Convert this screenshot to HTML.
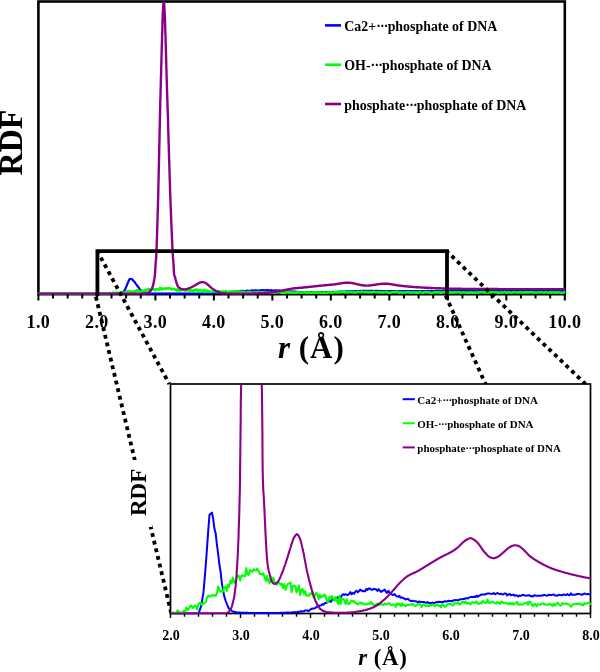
<!DOCTYPE html><html><head><meta charset="utf-8"><title>RDF</title><style>html,body{margin:0;padding:0;background:#fff}svg{display:block}</style></head><body><svg width="600" height="672" viewBox="0 0 600 672"><defs><clipPath id="ct"><rect x="37.2" y="1.8" width="528.2" height="293.0"/></clipPath><clipPath id="cb"><rect x="169.7" y="384.7" width="421.6" height="229.8"/></clipPath></defs><rect width="600" height="672" fill="#fff"/><rect x="38.4" y="1.5" width="526.4" height="292.7" fill="none" stroke="#000" stroke-width="2.6"/><g clip-path="url(#ct)" fill="none" stroke-linejoin="round" stroke-linecap="round"><path d="M38.4 293.8L39.4 293.8L40.4 293.8L41.5 293.8L42.5 293.8L43.5 293.8L44.5 293.8L45.6 293.8L46.6 293.8L47.6 293.8L48.6 293.8L49.7 293.8L50.7 293.8L51.7 293.8L52.7 293.8L53.8 293.8L54.8 293.8L55.8 293.8L56.8 293.8L57.8 293.8L58.9 293.8L59.9 293.8L60.9 293.8L61.9 293.8L63.0 293.8L64.0 293.8L65.0 293.8L66.0 293.8L67.1 293.8L68.1 293.8L69.1 293.8L70.1 293.8L71.2 293.8L72.2 293.8L73.2 293.8L74.2 293.8L75.2 293.8L76.3 293.8L77.3 293.8L78.3 293.8L79.3 293.8L80.4 293.8L81.4 293.8L82.4 293.8L83.4 293.8L84.5 293.8L85.5 293.8L86.5 293.8L87.5 293.8L88.6 293.8L89.6 293.8L90.6 293.8L91.6 293.8L92.6 293.8L93.7 293.8L94.7 293.8L95.7 293.8L96.7 293.8L97.8 293.8L98.8 293.8L99.8 293.8L100.8 293.8L101.9 293.8L102.9 293.8L103.9 293.8L104.9 293.8L106.0 293.8L107.0 293.8L108.0 293.8L109.0 293.8L110.0 293.8L111.1 293.8L112.1 293.8L113.1 293.8L114.1 293.8L115.2 293.8L116.2 293.8L117.2 293.8L118.2 293.8L119.3 293.8L120.3 293.7L121.3 293.3L122.3 292.8L123.4 291.8L124.4 290.7L125.4 288.7L126.4 286.4L127.4 283.9L128.5 281.4L129.5 279.2L130.5 279.0L131.5 278.9L132.6 279.8L133.6 281.2L134.6 281.9L135.6 283.6L136.7 284.9L137.7 286.5L138.7 287.6L139.7 289.3L140.8 290.3L141.8 291.2L142.8 291.9L143.8 292.3L144.8 292.8L145.9 293.1L146.9 293.2L147.9 293.4L148.9 293.5L150.0 293.5L151.0 293.6L152.0 293.7L153.0 293.6L154.1 293.7L155.1 293.7L156.1 293.7L157.1 293.7L158.2 293.7L159.2 293.7L160.2 293.7L161.2 293.7L162.3 293.7L163.3 293.7L164.3 293.7L165.3 293.7L166.3 293.7L167.4 293.7L168.4 293.7L169.4 293.7L170.4 293.7L171.5 293.7L172.5 293.7L173.5 293.7L174.5 293.7L175.6 293.7L176.6 293.7L177.6 293.7L178.6 293.7L179.7 293.7L180.7 293.7L181.7 293.7L182.7 293.7L183.7 293.7L184.8 293.7L185.8 293.7L186.8 293.7L187.8 293.7L188.9 293.7L189.9 293.7L190.9 293.7L191.9 293.7L193.0 293.7L194.0 293.7L195.0 293.7L196.0 293.7L197.1 293.7L198.1 293.6L199.1 293.6L200.1 293.6L201.1 293.6L202.2 293.6L203.2 293.5L204.2 293.6L205.2 293.5L206.3 293.5L207.3 293.5L208.3 293.5L209.3 293.3L210.4 293.3L211.4 293.4L212.4 293.4L213.4 293.2L214.5 293.1L215.5 293.1L216.5 293.1L217.5 293.0L218.5 292.9L219.6 292.7L220.6 292.8L221.6 292.6L222.6 292.6L223.7 292.4L224.7 292.5L225.7 292.3L226.7 292.3L227.8 292.2L228.8 292.0L229.8 291.9L230.8 292.1L231.9 291.8L232.9 291.7L233.9 291.7L234.9 291.5L235.9 291.5L237.0 291.4L238.0 291.5L239.0 291.4L240.0 291.1L241.1 290.9L242.1 291.0L243.1 290.9L244.1 291.0L245.2 291.1L246.2 290.9L247.2 290.6L248.2 291.0L249.3 290.8L250.3 290.9L251.3 290.6L252.3 290.4L253.3 290.6L254.4 290.5L255.4 290.3L256.4 290.4L257.4 290.5L258.5 290.5L259.5 290.5L260.5 290.2L261.5 290.3L262.6 290.1L263.6 290.1L264.6 290.3L265.6 290.3L266.7 290.1L267.7 290.2L268.7 290.2L269.7 290.5L270.7 290.2L271.8 290.4L272.8 290.6L273.8 290.5L274.8 290.4L275.9 290.3L276.9 290.6L277.9 290.7L278.9 290.4L280.0 290.7L281.0 290.8L282.0 291.0L283.0 291.1L284.1 290.9L285.1 291.2L286.1 291.3L287.1 291.3L288.1 291.2L289.2 291.5L290.2 291.4L291.2 291.5L292.2 291.6L293.3 291.7L294.3 291.7L295.3 291.6L296.3 291.8L297.4 291.9L298.4 292.0L299.4 291.9L300.4 292.0L301.5 292.0L302.5 292.0L303.5 292.2L304.5 292.0L305.5 292.1L306.6 292.1L307.6 292.1L308.6 292.1L309.6 292.2L310.7 292.2L311.7 292.1L312.7 292.2L313.7 292.3L314.8 292.3L315.8 292.2L316.8 292.3L317.8 292.2L318.9 292.1L319.9 292.1L320.9 292.1L321.9 292.1L322.9 292.1L324.0 292.1L325.0 292.1L326.0 292.0L327.0 292.0L328.1 292.0L329.1 291.9L330.1 291.9L331.1 292.0L332.2 292.0L333.2 291.8L334.2 291.8L335.2 291.8L336.3 291.8L337.3 291.8L338.3 291.8L339.3 291.7L340.3 291.7L341.4 291.7L342.4 291.7L343.4 291.6L344.4 291.5L345.5 291.6L346.5 291.4L347.5 291.4L348.5 291.3L349.6 291.4L350.6 291.3L351.6 291.4L352.6 291.2L353.7 291.3L354.7 291.2L355.7 291.1L356.7 291.0L357.7 291.0L358.8 291.0L359.8 291.0L360.8 290.9L361.8 290.8L362.9 290.8L363.9 290.9L364.9 290.9L365.9 290.9L367.0 290.8L368.0 291.0L369.0 290.9L370.0 290.8L371.1 290.9L372.1 290.9L373.1 290.9L374.1 291.0L375.1 290.9L376.2 290.8L377.2 290.8L378.2 291.1L379.2 291.0L380.3 290.9L381.3 291.1L382.3 291.1L383.3 291.0L384.4 291.2L385.4 291.1L386.4 291.2L387.4 291.3L388.5 291.1L389.5 291.2L390.5 291.1L391.5 291.0L392.6 291.1L393.6 291.2L394.6 291.1L395.6 291.1L396.6 291.1L397.7 291.3L398.7 291.2L399.7 291.3L400.7 291.1L401.8 291.1L402.8 291.2L403.8 291.2L404.8 291.2L405.9 291.2L406.9 291.1L407.9 291.1L408.9 291.0L410.0 291.1L411.0 291.2L412.0 291.1L413.0 291.0L414.0 291.1L415.1 291.1L416.1 291.0L417.1 291.0L418.1 291.2L419.2 291.1L420.2 291.2L421.2 291.0L422.2 291.1L423.3 291.1L424.3 291.1L425.3 291.0L426.3 291.0L427.4 291.1L428.4 290.9L429.4 291.1L430.4 291.1L431.4 290.8L432.5 291.0L433.5 291.0L434.5 291.0L435.5 291.0L436.6 290.9L437.6 290.9L438.6 290.9L439.6 291.0L440.7 291.1L441.7 290.9L442.7 290.8L443.7 290.9L444.8 291.0L445.8 290.9L446.8 291.0L447.8 290.9L448.8 291.0L449.9 291.0L450.9 290.9L451.9 291.0L452.9 290.9L454.0 290.8L455.0 290.9L456.0 291.0L457.0 291.0L458.1 291.0L459.1 291.0L460.1 291.0L461.1 291.0L462.2 291.0L463.2 291.0L464.2 291.0L465.2 291.0L466.2 291.0L467.3 290.9L468.3 290.9L469.3 291.1L470.3 291.1L471.4 291.1L472.4 291.0L473.4 290.9L474.4 291.0L475.5 291.0L476.5 291.0L477.5 291.0L478.5 291.0L479.6 291.0L480.6 291.0L481.6 291.1L482.6 291.0L483.6 290.9L484.7 291.1L485.7 291.1L486.7 291.0L487.7 291.0L488.8 291.1L489.8 291.0L490.8 291.0L491.8 291.0L492.9 291.1L493.9 291.0L494.9 291.0L495.9 291.0L497.0 291.0L498.0 291.0L499.0 291.1L500.0 291.0L501.0 291.1L502.1 291.0L503.1 291.0L504.1 291.1L505.1 291.1L506.2 291.1L507.2 291.1L508.2 291.1L509.2 291.1L510.3 291.1L511.3 291.1L512.3 291.0L513.3 291.0L514.4 291.0L515.4 291.1L516.4 291.1L517.4 291.1L518.4 291.1L519.5 291.0L520.5 291.0L521.5 291.0L522.5 291.0L523.6 291.2L524.6 291.1L525.6 291.1L526.6 291.0L527.7 291.0L528.7 291.1L529.7 291.1L530.7 291.1L531.8 291.1L532.8 291.1L533.8 291.1L534.8 291.0L535.8 291.1L536.9 291.0L537.9 291.1L538.9 291.1L539.9 291.0L541.0 291.1L542.0 291.1L543.0 291.1L544.0 291.1L545.1 291.1L546.1 291.1L547.1 291.1L548.1 291.2L549.2 291.1L550.2 291.1L551.2 291.0L552.2 291.2L553.2 291.0L554.3 291.0L555.3 291.1L556.3 291.2L557.3 291.1L558.4 291.1L559.4 291.1L560.4 291.0L561.4 291.1L562.5 291.1L563.5 291.1L564.5 291.0" stroke="#0000ff" stroke-width="2.2"/><path d="M38.4 293.8L39.4 293.8L40.4 293.8L41.5 293.8L42.5 293.8L43.5 293.8L44.5 293.8L45.6 293.8L46.6 293.8L47.6 293.8L48.6 293.8L49.7 293.8L50.7 293.8L51.7 293.8L52.7 293.8L53.8 293.8L54.8 293.8L55.8 293.8L56.8 293.8L57.8 293.8L58.9 293.8L59.9 293.8L60.9 293.8L61.9 293.8L63.0 293.8L64.0 293.8L65.0 293.8L66.0 293.8L67.1 293.8L68.1 293.8L69.1 293.8L70.1 293.8L71.2 293.8L72.2 293.8L73.2 293.8L74.2 293.8L75.2 293.8L76.3 293.8L77.3 293.8L78.3 293.8L79.3 293.8L80.4 293.8L81.4 293.8L82.4 293.8L83.4 293.8L84.5 293.8L85.5 293.8L86.5 293.8L87.5 293.8L88.6 293.8L89.6 293.8L90.6 293.8L91.6 293.8L92.6 293.8L93.7 293.8L94.7 293.8L95.7 293.8L96.7 293.8L97.8 293.8L98.8 293.6L99.8 293.8L100.8 293.8L101.9 293.7L102.9 293.2L103.9 293.7L104.9 293.8L106.0 293.8L107.0 293.8L108.0 293.5L109.0 293.8L110.0 292.9L111.1 293.4L112.1 293.2L113.1 292.7L114.1 292.6L115.2 293.2L116.2 292.9L117.2 292.7L118.2 293.0L119.3 293.7L120.3 292.5L121.3 292.3L122.3 292.5L123.4 293.0L124.4 292.6L125.4 292.7L126.4 292.5L127.4 291.5L128.5 291.3L129.5 291.6L130.5 291.6L131.5 291.4L132.6 291.7L133.6 291.6L134.6 291.9L135.6 291.4L136.7 290.0L137.7 290.7L138.7 291.3L139.7 291.3L140.8 291.4L141.8 290.6L142.8 290.5L143.8 291.5L144.8 290.3L145.9 290.8L146.9 289.5L147.9 290.1L148.9 289.0L150.0 290.3L151.0 290.1L152.0 289.5L153.0 288.9L154.1 289.2L155.1 290.3L156.1 289.2L157.1 289.3L158.2 289.5L159.2 289.6L160.2 287.8L161.2 289.3L162.3 289.5L163.3 288.4L164.3 288.7L165.3 288.9L166.3 288.2L167.4 288.5L168.4 288.5L169.4 288.1L170.4 288.6L171.5 289.3L172.5 289.1L173.5 289.3L174.5 288.9L175.6 289.9L176.6 290.5L177.6 289.2L178.6 290.3L179.7 290.8L180.7 289.3L181.7 290.1L182.7 289.3L183.7 290.1L184.8 290.5L185.8 290.7L186.8 290.2L187.8 290.1L188.9 290.6L189.9 290.3L190.9 291.2L191.9 290.2L193.0 291.5L194.0 290.5L195.0 290.0L196.0 289.8L197.1 289.5L198.1 291.6L199.1 290.2L200.1 290.0L201.1 290.2L202.2 291.5L203.2 290.7L204.2 289.9L205.2 292.0L206.3 290.8L207.3 290.5L208.3 291.6L209.3 290.9L210.4 291.9L211.4 291.8L212.4 291.8L213.4 291.3L214.5 291.5L215.5 290.9L216.5 292.0L217.5 291.6L218.5 291.0L219.6 291.3L220.6 292.3L221.6 291.3L222.6 291.9L223.7 291.5L224.7 291.6L225.7 291.1L226.7 291.7L227.8 292.8L228.8 292.6L229.8 291.5L230.8 292.0L231.9 291.4L232.9 291.8L233.9 292.4L234.9 291.5L235.9 292.4L237.0 293.0L238.0 291.2L239.0 293.0L240.0 291.9L241.1 291.8L242.1 292.1L243.1 292.9L244.1 291.8L245.2 292.8L246.2 292.8L247.2 292.4L248.2 292.0L249.3 292.2L250.3 292.1L251.3 292.6L252.3 292.5L253.3 292.8L254.4 292.6L255.4 292.3L256.4 292.6L257.4 292.3L258.5 292.7L259.5 292.7L260.5 292.5L261.5 292.6L262.6 292.3L263.6 292.5L264.6 292.0L265.6 292.6L266.7 292.6L267.7 292.9L268.7 292.5L269.7 292.4L270.7 292.8L271.8 292.6L272.8 292.4L273.8 292.6L274.8 292.7L275.9 292.3L276.9 292.5L277.9 292.4L278.9 292.2L280.0 292.3L281.0 292.6L282.0 292.7L283.0 292.5L284.1 292.6L285.1 293.0L286.1 292.2L287.1 292.5L288.1 292.3L289.2 292.8L290.2 292.2L291.2 292.7L292.2 292.6L293.3 292.9L294.3 292.6L295.3 292.6L296.3 292.6L297.4 292.4L298.4 292.5L299.4 292.3L300.4 292.7L301.5 292.8L302.5 292.6L303.5 292.4L304.5 292.3L305.5 292.4L306.6 293.0L307.6 292.5L308.6 292.3L309.6 292.6L310.7 292.8L311.7 292.6L312.7 292.8L313.7 292.5L314.8 292.6L315.8 292.3L316.8 292.5L317.8 292.8L318.9 292.5L319.9 292.4L320.9 292.7L321.9 292.7L322.9 293.1L324.0 292.3L325.0 292.7L326.0 293.0L327.0 292.9L328.1 292.5L329.1 292.3L330.1 292.5L331.1 292.3L332.2 292.7L333.2 292.7L334.2 292.2L335.2 292.3L336.3 292.4L337.3 292.1L338.3 292.5L339.3 292.4L340.3 292.1L341.4 291.9L342.4 292.3L343.4 291.9L344.4 292.4L345.5 292.2L346.5 292.3L347.5 292.6L348.5 292.2L349.6 292.0L350.6 292.2L351.6 292.2L352.6 291.9L353.7 292.4L354.7 292.5L355.7 292.3L356.7 292.4L357.7 291.8L358.8 292.1L359.8 292.3L360.8 292.3L361.8 291.5L362.9 292.3L363.9 292.3L364.9 292.1L365.9 292.0L367.0 292.1L368.0 292.4L369.0 292.4L370.0 292.0L371.1 292.2L372.1 292.5L373.1 291.9L374.1 292.0L375.1 292.3L376.2 292.3L377.2 292.2L378.2 292.4L379.2 292.5L380.3 292.2L381.3 292.6L382.3 292.2L383.3 292.6L384.4 292.3L385.4 292.3L386.4 291.9L387.4 292.5L388.5 292.6L389.5 292.5L390.5 292.6L391.5 292.5L392.6 292.3L393.6 292.2L394.6 292.0L395.6 292.5L396.6 291.8L397.7 292.0L398.7 292.5L399.7 292.9L400.7 292.4L401.8 292.4L402.8 292.9L403.8 292.4L404.8 292.5L405.9 292.6L406.9 292.3L407.9 292.2L408.9 292.5L410.0 292.4L411.0 292.6L412.0 292.6L413.0 292.4L414.0 292.3L415.1 292.5L416.1 292.9L417.1 292.3L418.1 292.7L419.2 292.4L420.2 292.0L421.2 292.4L422.2 292.7L423.3 292.7L424.3 292.2L425.3 292.4L426.3 292.3L427.4 292.2L428.4 292.4L429.4 292.5L430.4 292.6L431.4 293.0L432.5 292.7L433.5 292.4L434.5 292.4L435.5 292.3L436.6 292.4L437.6 292.4L438.6 292.2L439.6 292.6L440.7 292.4L441.7 292.7L442.7 292.2L443.7 292.4L444.8 292.3L445.8 292.1L446.8 292.2L447.8 292.4L448.8 292.2L449.9 292.7L450.9 292.3L451.9 292.4L452.9 292.7L454.0 292.1L455.0 292.5L456.0 292.3L457.0 292.5L458.1 292.2L459.1 292.1L460.1 292.6L461.1 292.7L462.2 292.4L463.2 292.2L464.2 292.5L465.2 292.5L466.2 292.3L467.3 293.0L468.3 292.5L469.3 292.7L470.3 292.3L471.4 292.6L472.4 292.6L473.4 292.5L474.4 292.7L475.5 292.4L476.5 292.5L477.5 292.5L478.5 292.6L479.6 292.2L480.6 292.4L481.6 292.3L482.6 292.3L483.6 292.6L484.7 292.3L485.7 292.4L486.7 292.4L487.7 292.5L488.8 292.5L489.8 292.3L490.8 292.0L491.8 292.6L492.9 292.3L493.9 292.5L494.9 292.3L495.9 292.3L497.0 292.2L498.0 293.0L499.0 292.5L500.0 292.6L501.0 292.4L502.1 292.6L503.1 292.5L504.1 292.3L505.1 292.1L506.2 293.0L507.2 292.5L508.2 292.4L509.2 292.4L510.3 292.5L511.3 292.7L512.3 292.6L513.3 292.3L514.4 292.2L515.4 292.4L516.4 292.6L517.4 292.4L518.4 292.5L519.5 292.3L520.5 292.4L521.5 292.5L522.5 292.4L523.6 292.7L524.6 292.3L525.6 292.2L526.6 292.7L527.7 292.3L528.7 292.6L529.7 292.2L530.7 292.3L531.8 292.5L532.8 292.2L533.8 292.5L534.8 292.5L535.8 292.5L536.9 292.5L537.9 292.5L538.9 292.4L539.9 292.5L541.0 292.3L542.0 292.2L543.0 292.5L544.0 292.7L545.1 292.3L546.1 292.2L547.1 292.5L548.1 292.7L549.2 292.4L550.2 292.1L551.2 292.8L552.2 292.3L553.2 292.5L554.3 292.6L555.3 292.3L556.3 292.7L557.3 292.4L558.4 292.2L559.4 292.4L560.4 292.6L561.4 292.8L562.5 292.7L563.5 292.8L564.5 292.1" stroke="#00ff00" stroke-width="2.6"/><path d="M38.4 293.8L38.5 293.8L38.7 293.8L38.8 293.8L39.0 293.8L39.1 293.8L39.3 293.8L39.4 293.8L39.6 293.8L39.7 293.8L39.9 293.8L40.0 293.8L40.2 293.8L40.3 293.8L40.4 293.8L40.6 293.8L40.7 293.8L40.9 293.8L41.0 293.8L41.2 293.8L41.3 293.8L41.5 293.8L41.6 293.8L41.8 293.8L41.9 293.8L42.1 293.8L42.2 293.8L42.3 293.8L42.5 293.8L42.6 293.8L42.8 293.8L42.9 293.8L43.1 293.8L43.2 293.8L43.4 293.8L43.5 293.8L43.7 293.8L43.8 293.8L44.0 293.8L44.1 293.8L44.2 293.8L44.4 293.8L44.5 293.8L44.7 293.8L44.8 293.8L45.0 293.8L45.1 293.8L45.3 293.8L45.4 293.8L45.6 293.8L45.7 293.8L45.9 293.8L46.0 293.8L46.1 293.8L46.3 293.8L46.4 293.8L46.6 293.8L46.7 293.8L46.9 293.8L47.0 293.8L47.2 293.8L47.3 293.8L47.5 293.8L47.6 293.8L47.8 293.8L47.9 293.8L48.1 293.8L48.2 293.8L48.3 293.8L48.5 293.8L48.6 293.8L48.8 293.8L48.9 293.8L49.1 293.8L49.2 293.8L49.4 293.8L49.5 293.8L49.7 293.8L49.8 293.8L50.0 293.8L50.1 293.8L50.2 293.8L50.4 293.8L50.5 293.8L50.7 293.8L50.8 293.8L51.0 293.8L51.1 293.8L51.3 293.8L51.4 293.8L51.6 293.8L51.7 293.8L51.9 293.8L52.0 293.8L52.1 293.8L52.3 293.8L52.4 293.8L52.6 293.8L52.7 293.8L52.9 293.8L53.0 293.8L53.2 293.8L53.3 293.8L53.5 293.8L53.6 293.8L53.8 293.8L53.9 293.8L54.0 293.8L54.2 293.8L54.3 293.8L54.5 293.8L54.6 293.8L54.8 293.8L54.9 293.8L55.1 293.8L55.2 293.8L55.4 293.8L55.5 293.8L55.7 293.8L55.8 293.8L55.9 293.8L56.1 293.8L56.2 293.8L56.4 293.8L56.5 293.8L56.7 293.8L56.8 293.8L57.0 293.8L57.1 293.8L57.3 293.8L57.4 293.8L57.6 293.8L57.7 293.8L57.8 293.8L58.0 293.8L58.1 293.8L58.3 293.8L58.4 293.8L58.6 293.8L58.7 293.8L58.9 293.8L59.0 293.8L59.2 293.8L59.3 293.8L59.5 293.8L59.6 293.8L59.7 293.8L59.9 293.8L60.0 293.8L60.2 293.8L60.3 293.8L60.5 293.8L60.6 293.8L60.8 293.8L60.9 293.8L61.1 293.8L61.2 293.8L61.4 293.8L61.5 293.8L61.6 293.8L61.8 293.8L61.9 293.8L62.1 293.8L62.2 293.8L62.4 293.8L62.5 293.8L62.7 293.8L62.8 293.8L63.0 293.8L63.1 293.8L63.3 293.8L63.4 293.8L63.6 293.8L63.7 293.8L63.8 293.8L64.0 293.8L64.1 293.8L64.3 293.8L64.4 293.8L64.6 293.8L64.7 293.8L64.9 293.8L65.0 293.8L65.2 293.8L65.3 293.8L65.5 293.8L65.6 293.8L65.7 293.8L65.9 293.8L66.0 293.8L66.2 293.8L66.3 293.8L66.5 293.8L66.6 293.8L66.8 293.8L66.9 293.8L67.1 293.8L67.2 293.8L67.4 293.8L67.5 293.8L67.6 293.8L67.8 293.8L67.9 293.8L68.1 293.8L68.2 293.8L68.4 293.8L68.5 293.8L68.7 293.8L68.8 293.8L69.0 293.8L69.1 293.8L69.3 293.8L69.4 293.8L69.5 293.8L69.7 293.8L69.8 293.8L70.0 293.8L70.1 293.8L70.3 293.8L70.4 293.8L70.6 293.8L70.7 293.8L70.9 293.8L71.0 293.8L71.2 293.8L71.3 293.8L71.4 293.8L71.6 293.8L71.7 293.8L71.9 293.8L72.0 293.8L72.2 293.8L72.3 293.8L72.5 293.8L72.6 293.8L72.8 293.8L72.9 293.8L73.1 293.8L73.2 293.8L73.3 293.8L73.5 293.8L73.6 293.8L73.8 293.8L73.9 293.8L74.1 293.8L74.2 293.8L74.4 293.8L74.5 293.8L74.7 293.8L74.8 293.8L75.0 293.8L75.1 293.8L75.2 293.8L75.4 293.8L75.5 293.8L75.7 293.8L75.8 293.8L76.0 293.8L76.1 293.8L76.3 293.8L76.4 293.8L76.6 293.8L76.7 293.8L76.9 293.8L77.0 293.8L77.1 293.8L77.3 293.8L77.4 293.8L77.6 293.8L77.7 293.8L77.9 293.8L78.0 293.8L78.2 293.8L78.3 293.8L78.5 293.8L78.6 293.8L78.8 293.8L78.9 293.8L79.0 293.8L79.2 293.8L79.3 293.8L79.5 293.8L79.6 293.8L79.8 293.8L79.9 293.8L80.1 293.8L80.2 293.8L80.4 293.8L80.5 293.8L80.7 293.8L80.8 293.8L81.0 293.8L81.1 293.8L81.2 293.8L81.4 293.8L81.5 293.8L81.7 293.8L81.8 293.8L82.0 293.8L82.1 293.8L82.3 293.8L82.4 293.8L82.6 293.8L82.7 293.8L82.9 293.8L83.0 293.8L83.1 293.8L83.3 293.8L83.4 293.8L83.6 293.8L83.7 293.8L83.9 293.8L84.0 293.8L84.2 293.8L84.3 293.8L84.5 293.8L84.6 293.8L84.8 293.8L84.9 293.8L85.0 293.8L85.2 293.8L85.3 293.8L85.5 293.8L85.6 293.8L85.8 293.8L85.9 293.8L86.1 293.8L86.2 293.8L86.4 293.8L86.5 293.8L86.7 293.8L86.8 293.8L86.9 293.8L87.1 293.8L87.2 293.8L87.4 293.8L87.5 293.8L87.7 293.8L87.8 293.8L88.0 293.8L88.1 293.8L88.3 293.8L88.4 293.8L88.6 293.8L88.7 293.8L88.8 293.8L89.0 293.8L89.1 293.8L89.3 293.8L89.4 293.8L89.6 293.8L89.7 293.8L89.9 293.8L90.0 293.8L90.2 293.8L90.3 293.8L90.5 293.8L90.6 293.8L90.7 293.8L90.9 293.8L91.0 293.8L91.2 293.8L91.3 293.8L91.5 293.8L91.6 293.8L91.8 293.8L91.9 293.8L92.1 293.8L92.2 293.8L92.4 293.8L92.5 293.8L92.6 293.8L92.8 293.8L92.9 293.8L93.1 293.8L93.2 293.8L93.4 293.8L93.5 293.8L93.7 293.8L93.8 293.8L94.0 293.8L94.1 293.8L94.3 293.8L94.4 293.8L94.5 293.8L94.7 293.8L94.8 293.8L95.0 293.8L95.1 293.8L95.3 293.8L95.4 293.8L95.6 293.8L95.7 293.8L95.9 293.8L96.0 293.8L96.2 293.8L96.3 293.8L96.5 293.8L96.6 293.8L96.7 293.8L96.9 293.8L97.0 293.8L97.2 293.8L97.3 293.8L97.5 293.8L97.6 293.8L97.8 293.8L97.9 293.8L98.1 293.8L98.2 293.8L98.4 293.8L98.5 293.8L98.6 293.8L98.8 293.8L98.9 293.8L99.1 293.8L99.2 293.8L99.4 293.8L99.5 293.8L99.7 293.8L99.8 293.8L100.0 293.8L100.1 293.8L100.3 293.8L100.4 293.8L100.5 293.8L100.7 293.8L100.8 293.8L101.0 293.8L101.1 293.8L101.3 293.8L101.4 293.8L101.6 293.8L101.7 293.8L101.9 293.8L102.0 293.8L102.2 293.8L102.3 293.8L102.4 293.8L102.6 293.8L102.7 293.8L102.9 293.8L103.0 293.8L103.2 293.8L103.3 293.8L103.5 293.8L103.6 293.8L103.8 293.8L103.9 293.8L104.1 293.8L104.2 293.8L104.3 293.8L104.5 293.8L104.6 293.8L104.8 293.8L104.9 293.8L105.1 293.8L105.2 293.8L105.4 293.8L105.5 293.8L105.7 293.8L105.8 293.8L106.0 293.8L106.1 293.8L106.2 293.8L106.4 293.8L106.5 293.8L106.7 293.8L106.8 293.8L107.0 293.8L107.1 293.8L107.3 293.8L107.4 293.8L107.6 293.8L107.7 293.8L107.9 293.8L108.0 293.8L108.1 293.8L108.3 293.8L108.4 293.8L108.6 293.8L108.7 293.8L108.9 293.8L109.0 293.8L109.2 293.8L109.3 293.8L109.5 293.8L109.6 293.8L109.8 293.8L109.9 293.8L110.0 293.8L110.2 293.8L110.3 293.8L110.5 293.8L110.6 293.8L110.8 293.8L110.9 293.8L111.1 293.8L111.2 293.8L111.4 293.8L111.5 293.8L111.7 293.8L111.8 293.8L111.9 293.8L112.1 293.8L112.2 293.8L112.4 293.8L112.5 293.8L112.7 293.8L112.8 293.8L113.0 293.8L113.1 293.8L113.3 293.8L113.4 293.8L113.6 293.8L113.7 293.8L113.9 293.8L114.0 293.8L114.1 293.8L114.3 293.8L114.4 293.8L114.6 293.8L114.7 293.8L114.9 293.8L115.0 293.8L115.2 293.8L115.3 293.8L115.5 293.8L115.6 293.8L115.8 293.8L115.9 293.8L116.0 293.8L116.2 293.8L116.3 293.8L116.5 293.8L116.6 293.8L116.8 293.8L116.9 293.8L117.1 293.8L117.2 293.8L117.4 293.8L117.5 293.8L117.7 293.8L117.8 293.8L117.9 293.8L118.1 293.8L118.2 293.8L118.4 293.8L118.5 293.8L118.7 293.8L118.8 293.8L119.0 293.8L119.1 293.8L119.3 293.8L119.4 293.8L119.6 293.8L119.7 293.8L119.8 293.8L120.0 293.8L120.1 293.8L120.3 293.8L120.4 293.8L120.6 293.8L120.7 293.8L120.9 293.8L121.0 293.8L121.2 293.8L121.3 293.8L121.5 293.8L121.6 293.8L121.7 293.8L121.9 293.8L122.0 293.8L122.2 293.8L122.3 293.8L122.5 293.8L122.6 293.8L122.8 293.8L122.9 293.8L123.1 293.8L123.2 293.8L123.4 293.8L123.5 293.8L123.6 293.8L123.8 293.8L123.9 293.8L124.1 293.8L124.2 293.8L124.4 293.8L124.5 293.8L124.7 293.8L124.8 293.8L125.0 293.8L125.1 293.8L125.3 293.8L125.4 293.8L125.5 293.8L125.7 293.8L125.8 293.8L126.0 293.8L126.1 293.8L126.3 293.8L126.4 293.8L126.6 293.8L126.7 293.8L126.9 293.8L127.0 293.8L127.2 293.8L127.3 293.8L127.4 293.8L127.6 293.8L127.7 293.8L127.9 293.8L128.0 293.8L128.2 293.8L128.3 293.8L128.5 293.8L128.6 293.8L128.8 293.8L128.9 293.8L129.1 293.8L129.2 293.8L129.4 293.8L129.5 293.8L129.6 293.8L129.8 293.8L129.9 293.8L130.1 293.8L130.2 293.8L130.4 293.8L130.5 293.8L130.7 293.8L130.8 293.8L131.0 293.8L131.1 293.8L131.3 293.8L131.4 293.8L131.5 293.8L131.7 293.8L131.8 293.8L132.0 293.8L132.1 293.8L132.3 293.8L132.4 293.8L132.6 293.8L132.7 293.8L132.9 293.8L133.0 293.8L133.2 293.8L133.3 293.8L133.4 293.8L133.6 293.8L133.7 293.8L133.9 293.8L134.0 293.8L134.2 293.8L134.3 293.8L134.5 293.8L134.6 293.8L134.8 293.8L134.9 293.8L135.1 293.8L135.2 293.8L135.3 293.8L135.5 293.8L135.6 293.8L135.8 293.8L135.9 293.8L136.1 293.8L136.2 293.8L136.4 293.8L136.5 293.8L136.7 293.8L136.8 293.8L137.0 293.8L137.1 293.8L137.2 293.8L137.4 293.8L137.5 293.8L137.7 293.8L137.8 293.8L138.0 293.8L138.1 293.8L138.3 293.8L138.4 293.8L138.6 293.8L138.7 293.8L138.9 293.8L139.0 293.8L139.1 293.8L139.3 293.8L139.4 293.8L139.6 293.8L139.7 293.8L139.9 293.8L140.0 293.8L140.2 293.8L140.3 293.8L140.5 293.8L140.6 293.8L140.8 293.8L140.9 293.8L141.0 293.8L141.2 293.8L141.3 293.8L141.5 293.8L141.6 293.8L141.8 293.8L141.9 293.8L142.1 293.8L142.2 293.8L142.4 293.8L142.5 293.8L142.7 293.8L142.8 293.8L142.9 293.8L143.1 293.8L143.2 293.8L143.4 293.8L143.5 293.8L143.7 293.8L143.8 293.8L144.0 293.7L144.1 293.7L144.3 293.7L144.4 293.7L144.6 293.7L144.7 293.7L144.8 293.7L145.0 293.6L145.1 293.6L145.3 293.6L145.4 293.6L145.6 293.5L145.7 293.5L145.9 293.5L146.0 293.4L146.2 293.4L146.3 293.4L146.5 293.3L146.6 293.3L146.8 293.3L146.9 293.2L147.0 293.2L147.2 293.1L147.3 293.1L147.5 293.0L147.6 293.0L147.8 292.9L147.9 292.9L148.1 292.8L148.2 292.7L148.4 292.6L148.5 292.5L148.7 292.4L148.8 292.3L148.9 292.2L149.1 292.1L149.2 292.0L149.4 291.9L149.5 291.8L149.7 291.7L149.8 291.6L150.0 291.4L150.1 291.3L150.3 291.1L150.4 291.0L150.6 290.8L150.7 290.6L150.8 290.4L151.0 290.2L151.1 290.0L151.3 289.7L151.4 289.5L151.6 289.2L151.7 288.9L151.9 288.6L152.0 288.3L152.2 287.9L152.3 287.5L152.5 287.1L152.6 286.7L152.7 286.2L152.9 285.8L153.0 285.3L153.2 284.8L153.3 284.2L153.5 283.6L153.6 282.9L153.8 282.2L153.9 281.4L154.1 280.6L154.2 279.8L154.4 278.9L154.5 278.0L154.6 277.0L154.8 275.7L154.9 274.3L155.1 272.5L155.2 270.1L155.4 267.5L155.5 264.8L155.7 262.5L155.8 260.8L156.0 259.9L156.1 258.0L156.3 255.2L156.4 252.1L156.5 248.7L156.7 245.1L156.8 241.2L157.0 237.0L157.1 232.6L157.3 227.9L157.4 223.0L157.6 217.9L157.7 212.7L157.9 207.3L158.0 202.0L158.2 196.6L158.3 191.0L158.4 185.1L158.6 179.0L158.7 172.6L158.9 166.0L159.0 159.2L159.2 152.3L159.3 145.4L159.5 138.4L159.6 131.5L159.8 124.7L159.9 118.1L160.1 111.8L160.2 105.9L160.3 100.4L160.5 95.3L160.6 90.0L160.8 84.6L160.9 79.2L161.1 73.6L161.2 68.1L161.4 62.5L161.5 56.9L161.7 51.4L161.8 46.0L162.0 40.7L162.1 35.5L162.3 30.6L162.4 25.9L162.5 21.5L162.7 17.4L162.8 13.7L163.0 10.4L163.1 7.6L163.3 5.3L163.4 3.5L163.6 2.4L163.7 1.8L163.9 2.0L164.0 2.7L164.2 4.0L164.3 5.9L164.4 8.3L164.6 11.2L164.7 14.5L164.9 18.2L165.0 22.2L165.2 26.5L165.3 31.0L165.5 35.8L165.6 40.7L165.8 45.8L165.9 50.9L166.1 56.1L166.2 61.3L166.3 66.5L166.5 71.6L166.6 76.7L166.8 81.7L166.9 86.6L167.1 91.3L167.2 96.0L167.4 100.4L167.5 104.9L167.7 109.5L167.8 114.3L168.0 119.1L168.1 124.1L168.2 129.1L168.4 134.1L168.5 139.1L168.7 144.2L168.8 149.2L169.0 154.2L169.1 159.1L169.3 164.0L169.4 168.8L169.6 173.5L169.7 178.2L169.9 182.7L170.0 187.1L170.1 191.4L170.3 195.6L170.4 199.7L170.6 203.6L170.7 207.6L170.9 211.4L171.0 215.3L171.2 219.0L171.3 222.6L171.5 226.2L171.6 229.7L171.8 233.1L171.9 236.4L172.0 239.6L172.2 242.6L172.3 245.6L172.5 248.5L172.6 251.3L172.8 253.9L172.9 256.4L173.1 258.9L173.2 260.1L173.4 261.7L173.5 264.2L173.7 267.2L173.8 270.2L173.9 272.6L174.1 274.1L174.2 274.8L174.4 275.3L174.5 275.8L174.7 276.2L174.8 276.6L175.0 277.0L175.1 277.5L175.3 278.1L175.4 278.6L175.6 279.1L175.7 279.7L175.8 280.2L176.0 280.8L176.1 281.4L176.3 281.9L176.4 282.5L176.6 283.0L176.7 283.4L176.9 283.9L177.0 284.3L177.2 284.7L177.3 285.1L177.5 285.5L177.6 285.8L177.7 286.1L177.9 286.3L178.0 286.5L178.2 286.7L178.3 286.9L178.5 287.0L178.6 287.2L178.8 287.3L178.9 287.4L179.1 287.5L179.2 287.6L179.4 287.7L179.5 287.8L179.7 287.9L179.8 288.0L179.9 288.1L180.1 288.2L180.2 288.3L180.4 288.4L180.5 288.5L180.7 288.6L180.8 288.7L181.0 288.8L181.1 288.9L181.3 288.9L181.4 289.0L181.6 289.1L181.7 289.1L181.8 289.1L182.0 289.2L182.1 289.2L182.3 289.2L182.4 289.3L182.6 289.3L182.7 289.3L182.9 289.3L183.0 289.4L183.2 289.4L183.3 289.4L183.5 289.4L183.6 289.4L183.7 289.4L183.9 289.4L184.0 289.4L184.2 289.4L184.3 289.4L184.5 289.4L184.6 289.4L184.8 289.4L184.9 289.4L185.1 289.4L185.2 289.3L185.4 289.3L185.5 289.3L185.6 289.3L185.8 289.3L185.9 289.2L186.1 289.2L186.2 289.2L186.4 289.2L186.5 289.1L186.7 289.1L186.8 289.1L187.0 289.0L187.1 289.0L187.3 288.9L187.4 288.9L187.5 288.8L187.7 288.8L187.8 288.7L188.0 288.7L188.1 288.6L188.3 288.6L188.4 288.5L188.6 288.5L188.7 288.4L188.9 288.3L189.0 288.3L189.2 288.2L189.3 288.2L189.4 288.1L189.6 288.0L189.7 288.0L189.9 287.9L190.0 287.9L190.2 287.8L190.3 287.7L190.5 287.7L190.6 287.6L190.8 287.5L190.9 287.5L191.1 287.4L191.2 287.3L191.3 287.2L191.5 287.2L191.6 287.1L191.8 287.0L191.9 286.9L192.1 286.9L192.2 286.8L192.4 286.7L192.5 286.6L192.7 286.6L192.8 286.5L193.0 286.4L193.1 286.3L193.2 286.2L193.4 286.2L193.5 286.1L193.7 286.0L193.8 285.9L194.0 285.9L194.1 285.8L194.3 285.7L194.4 285.6L194.6 285.5L194.7 285.4L194.9 285.4L195.0 285.3L195.2 285.2L195.3 285.1L195.4 285.0L195.6 284.9L195.7 284.9L195.9 284.8L196.0 284.7L196.2 284.6L196.3 284.5L196.5 284.4L196.6 284.4L196.8 284.3L196.9 284.2L197.1 284.1L197.2 284.0L197.3 283.9L197.5 283.9L197.6 283.8L197.8 283.7L197.9 283.6L198.1 283.5L198.2 283.4L198.4 283.4L198.5 283.3L198.7 283.2L198.8 283.1L199.0 283.0L199.1 283.0L199.2 282.9L199.4 282.8L199.5 282.8L199.7 282.7L199.8 282.7L200.0 282.6L200.1 282.6L200.3 282.5L200.4 282.5L200.6 282.4L200.7 282.4L200.9 282.4L201.0 282.3L201.1 282.3L201.3 282.2L201.4 282.2L201.6 282.2L201.7 282.1L201.9 282.1L202.0 282.1L202.2 282.1L202.3 282.1L202.5 282.1L202.6 282.1L202.8 282.1L202.9 282.1L203.0 282.1L203.2 282.1L203.3 282.1L203.5 282.2L203.6 282.2L203.8 282.3L203.9 282.3L204.1 282.3L204.2 282.4L204.4 282.5L204.5 282.5L204.7 282.6L204.8 282.6L204.9 282.7L205.1 282.7L205.2 282.8L205.4 282.9L205.5 282.9L205.7 283.0L205.8 283.1L206.0 283.2L206.1 283.3L206.3 283.4L206.4 283.5L206.6 283.7L206.7 283.8L206.8 283.9L207.0 284.0L207.1 284.1L207.3 284.2L207.4 284.3L207.6 284.4L207.7 284.6L207.9 284.7L208.0 284.8L208.2 284.9L208.3 285.1L208.5 285.2L208.6 285.3L208.7 285.5L208.9 285.6L209.0 285.8L209.2 285.9L209.3 286.0L209.5 286.2L209.6 286.3L209.8 286.4L209.9 286.6L210.1 286.7L210.2 286.9L210.4 287.0L210.5 287.1L210.6 287.2L210.8 287.4L210.9 287.5L211.1 287.6L211.2 287.7L211.4 287.9L211.5 288.0L211.7 288.1L211.8 288.2L212.0 288.3L212.1 288.4L212.3 288.5L212.4 288.6L212.6 288.7L212.7 288.8L212.8 288.9L213.0 289.0L213.1 289.1L213.3 289.2L213.4 289.3L213.6 289.4L213.7 289.5L213.9 289.6L214.0 289.7L214.2 289.8L214.3 289.9L214.5 290.0L214.6 290.1L214.7 290.2L214.9 290.3L215.0 290.3L215.2 290.4L215.3 290.5L215.5 290.6L215.6 290.7L215.8 290.8L215.9 290.9L216.1 290.9L216.2 291.0L216.4 291.1L216.5 291.2L216.6 291.3L216.8 291.4L216.9 291.4L217.1 291.5L217.2 291.6L217.4 291.6L217.5 291.7L217.7 291.8L217.8 291.8L218.0 291.9L218.1 292.0L218.3 292.0L218.4 292.1L218.5 292.1L218.7 292.2L218.8 292.2L219.0 292.3L219.1 292.3L219.3 292.4L219.4 292.4L219.6 292.5L219.7 292.5L219.9 292.5L220.0 292.6L220.2 292.6L220.3 292.7L220.4 292.7L220.6 292.8L220.7 292.8L220.9 292.9L221.0 292.9L221.2 293.0L221.3 293.0L221.5 293.0L221.6 293.1L221.8 293.1L221.9 293.1L222.1 293.1L222.2 293.1L222.3 293.2L222.5 293.2L222.6 293.2L222.8 293.2L222.9 293.2L223.1 293.3L223.2 293.3L223.4 293.3L223.5 293.3L223.7 293.3L223.8 293.3L224.0 293.4L224.1 293.4L224.2 293.4L224.4 293.4L224.5 293.4L224.7 293.4L224.8 293.4L225.0 293.4L225.1 293.5L225.3 293.5L225.4 293.5L225.6 293.5L225.7 293.5L225.9 293.5L226.0 293.5L226.1 293.5L226.3 293.5L226.4 293.6L226.6 293.6L226.7 293.6L226.9 293.6L227.0 293.6L227.2 293.6L227.3 293.6L227.5 293.6L227.6 293.6L227.8 293.6L227.9 293.6L228.1 293.6L228.2 293.6L228.3 293.6L228.5 293.6L228.6 293.6L228.8 293.6L228.9 293.6L229.1 293.6L229.2 293.6L229.4 293.6L229.5 293.6L229.7 293.6L229.8 293.6L230.0 293.6L230.1 293.6L230.2 293.6L230.4 293.6L230.5 293.6L230.7 293.6L230.8 293.6L231.0 293.6L231.1 293.7L231.3 293.7L231.4 293.7L231.6 293.7L231.7 293.7L231.9 293.7L232.0 293.7L232.1 293.7L232.3 293.7L232.4 293.7L232.6 293.7L232.7 293.7L232.9 293.7L233.0 293.7L233.2 293.7L233.3 293.7L233.5 293.7L233.6 293.7L233.8 293.7L233.9 293.7L234.0 293.7L234.2 293.7L234.3 293.7L234.5 293.7L234.6 293.7L234.8 293.7L234.9 293.7L235.1 293.7L235.2 293.7L235.4 293.7L235.5 293.7L235.7 293.7L235.8 293.7L235.9 293.7L236.1 293.7L236.2 293.7L236.4 293.7L236.5 293.7L236.7 293.7L236.8 293.7L237.0 293.7L237.1 293.7L237.3 293.7L237.4 293.7L237.6 293.7L237.7 293.7L237.8 293.7L238.0 293.7L238.1 293.7L238.3 293.7L238.4 293.7L238.6 293.7L238.7 293.7L238.9 293.7L239.0 293.7L239.2 293.7L239.3 293.7L239.5 293.7L239.6 293.7L239.7 293.7L239.9 293.7L240.0 293.7L240.2 293.7L240.3 293.7L240.5 293.7L240.6 293.7L240.8 293.7L240.9 293.7L241.1 293.7L241.2 293.7L241.4 293.7L241.5 293.7L241.6 293.7L241.8 293.7L241.9 293.7L242.1 293.7L242.2 293.7L242.4 293.7L242.5 293.7L242.7 293.7L242.8 293.7L243.0 293.7L243.1 293.7L243.3 293.7L243.4 293.7L243.5 293.7L243.7 293.7L243.8 293.7L244.0 293.7L244.1 293.7L244.3 293.7L244.4 293.7L244.6 293.7L244.7 293.7L244.9 293.7L245.0 293.7L245.2 293.7L245.3 293.7L245.5 293.7L245.6 293.7L245.7 293.7L245.9 293.7L246.0 293.7L246.2 293.7L246.3 293.7L246.5 293.7L246.6 293.7L246.8 293.7L246.9 293.7L247.1 293.7L247.2 293.6L247.4 293.6L247.5 293.6L247.6 293.6L247.8 293.6L247.9 293.6L248.1 293.6L248.2 293.6L248.4 293.6L248.5 293.6L248.7 293.6L248.8 293.6L249.0 293.6L249.1 293.6L249.3 293.6L249.4 293.6L249.5 293.6L249.7 293.6L249.8 293.6L250.0 293.6L250.1 293.6L250.3 293.6L250.4 293.6L250.6 293.6L250.7 293.6L250.9 293.6L251.0 293.6L251.2 293.6L251.3 293.6L251.4 293.6L251.6 293.6L251.7 293.6L251.9 293.6L252.0 293.6L252.2 293.5L252.3 293.5L252.5 293.5L252.6 293.5L252.8 293.5L252.9 293.5L253.1 293.5L253.2 293.5L253.3 293.5L253.5 293.5L253.6 293.5L253.8 293.5L253.9 293.5L254.1 293.5L254.2 293.5L254.4 293.5L254.5 293.5L254.7 293.5L254.8 293.5L255.0 293.5L255.1 293.5L255.2 293.5L255.4 293.5L255.5 293.4L255.7 293.4L255.8 293.4L256.0 293.4L256.1 293.4L256.3 293.4L256.4 293.4L256.6 293.4L256.7 293.4L256.9 293.4L257.0 293.4L257.1 293.4L257.3 293.4L257.4 293.4L257.6 293.4L257.7 293.4L257.9 293.4L258.0 293.4L258.2 293.4L258.3 293.3L258.5 293.3L258.6 293.3L258.8 293.3L258.9 293.3L259.0 293.3L259.2 293.3L259.3 293.3L259.5 293.3L259.6 293.3L259.8 293.3L259.9 293.3L260.1 293.3L260.2 293.3L260.4 293.3L260.5 293.2L260.7 293.2L260.8 293.2L261.0 293.2L261.1 293.2L261.2 293.2L261.4 293.2L261.5 293.2L261.7 293.2L261.8 293.2L262.0 293.2L262.1 293.2L262.3 293.2L262.4 293.1L262.6 293.1L262.7 293.1L262.9 293.1L263.0 293.1L263.1 293.1L263.3 293.1L263.4 293.1L263.6 293.1L263.7 293.1L263.9 293.1L264.0 293.1L264.2 293.0L264.3 293.0L264.5 293.0L264.6 293.0L264.8 293.0L264.9 293.0L265.0 293.0L265.2 293.0L265.3 293.0L265.5 293.0L265.6 292.9L265.8 292.9L265.9 292.9L266.1 292.9L266.2 292.9L266.4 292.9L266.5 292.9L266.7 292.9L266.8 292.9L266.9 292.8L267.1 292.8L267.2 292.8L267.4 292.8L267.5 292.8L267.7 292.8L267.8 292.8L268.0 292.7L268.1 292.7L268.3 292.7L268.4 292.7L268.6 292.7L268.7 292.7L268.8 292.6L269.0 292.6L269.1 292.6L269.3 292.6L269.4 292.6L269.6 292.6L269.7 292.5L269.9 292.5L270.0 292.5L270.2 292.5L270.3 292.5L270.5 292.5L270.6 292.4L270.7 292.4L270.9 292.4L271.0 292.4L271.2 292.4L271.3 292.3L271.5 292.3L271.6 292.3L271.8 292.3L271.9 292.3L272.1 292.2L272.2 292.2L272.4 292.2L272.5 292.2L272.6 292.2L272.8 292.1L272.9 292.1L273.1 292.1L273.2 292.1L273.4 292.1L273.5 292.0L273.7 292.0L273.8 292.0L274.0 292.0L274.1 291.9L274.3 291.9L274.4 291.9L274.5 291.9L274.7 291.9L274.8 291.8L275.0 291.8L275.1 291.8L275.3 291.8L275.4 291.8L275.6 291.7L275.7 291.7L275.9 291.7L276.0 291.7L276.2 291.6L276.3 291.6L276.4 291.6L276.6 291.6L276.7 291.5L276.9 291.5L277.0 291.5L277.2 291.5L277.3 291.5L277.5 291.4L277.6 291.4L277.8 291.4L277.9 291.4L278.1 291.3L278.2 291.3L278.4 291.3L278.5 291.2L278.6 291.2L278.8 291.2L278.9 291.2L279.1 291.1L279.2 291.1L279.4 291.1L279.5 291.1L279.7 291.0L279.8 291.0L280.0 291.0L280.1 290.9L280.3 290.9L280.4 290.9L280.5 290.9L280.7 290.8L280.8 290.8L281.0 290.8L281.1 290.7L281.3 290.7L281.4 290.7L281.6 290.7L281.7 290.6L281.9 290.6L282.0 290.6L282.2 290.5L282.3 290.5L282.4 290.5L282.6 290.5L282.7 290.4L282.9 290.4L283.0 290.4L283.2 290.3L283.3 290.3L283.5 290.3L283.6 290.3L283.8 290.2L283.9 290.2L284.1 290.2L284.2 290.1L284.3 290.1L284.5 290.1L284.6 290.0L284.8 290.0L284.9 290.0L285.1 289.9L285.2 289.9L285.4 289.9L285.5 289.9L285.7 289.8L285.8 289.8L286.0 289.8L286.1 289.7L286.2 289.7L286.4 289.7L286.5 289.6L286.7 289.6L286.8 289.6L287.0 289.6L287.1 289.5L287.3 289.5L287.4 289.5L287.6 289.4L287.7 289.4L287.9 289.4L288.0 289.4L288.1 289.3L288.3 289.3L288.4 289.3L288.6 289.3L288.7 289.2L288.9 289.2L289.0 289.2L289.2 289.2L289.3 289.1L289.5 289.1L289.6 289.1L289.8 289.0L289.9 289.0L290.0 289.0L290.2 289.0L290.3 289.0L290.5 288.9L290.6 288.9L290.8 288.9L290.9 288.9L291.1 288.8L291.2 288.8L291.4 288.8L291.5 288.8L291.7 288.7L291.8 288.7L291.9 288.7L292.1 288.7L292.2 288.6L292.4 288.6L292.5 288.6L292.7 288.6L292.8 288.6L293.0 288.5L293.1 288.5L293.3 288.5L293.4 288.5L293.6 288.5L293.7 288.4L293.9 288.4L294.0 288.4L294.1 288.4L294.3 288.4L294.4 288.3L294.6 288.3L294.7 288.3L294.9 288.3L295.0 288.3L295.2 288.3L295.3 288.2L295.5 288.2L295.6 288.2L295.8 288.2L295.9 288.2L296.0 288.2L296.2 288.1L296.3 288.1L296.5 288.1L296.6 288.1L296.8 288.1L296.9 288.1L297.1 288.1L297.2 288.0L297.4 288.0L297.5 288.0L297.7 288.0L297.8 288.0L297.9 288.0L298.1 288.0L298.2 288.0L298.4 287.9L298.5 287.9L298.7 287.9L298.8 287.9L299.0 287.9L299.1 287.9L299.3 287.9L299.4 287.9L299.6 287.9L299.7 287.8L299.8 287.8L300.0 287.8L300.1 287.8L300.3 287.8L300.4 287.8L300.6 287.8L300.7 287.8L300.9 287.7L301.0 287.7L301.2 287.7L301.3 287.7L301.5 287.7L301.6 287.7L301.7 287.7L301.9 287.7L302.0 287.7L302.2 287.6L302.3 287.6L302.5 287.6L302.6 287.6L302.8 287.6L302.9 287.6L303.1 287.6L303.2 287.5L303.4 287.5L303.5 287.5L303.6 287.5L303.8 287.5L303.9 287.5L304.1 287.5L304.2 287.4L304.4 287.4L304.5 287.4L304.7 287.4L304.8 287.4L305.0 287.4L305.1 287.4L305.3 287.3L305.4 287.3L305.5 287.3L305.7 287.3L305.8 287.3L306.0 287.3L306.1 287.2L306.3 287.2L306.4 287.2L306.6 287.2L306.7 287.2L306.9 287.2L307.0 287.2L307.2 287.1L307.3 287.1L307.4 287.1L307.6 287.1L307.7 287.1L307.9 287.1L308.0 287.0L308.2 287.0L308.3 287.0L308.5 287.0L308.6 287.0L308.8 287.0L308.9 286.9L309.1 286.9L309.2 286.9L309.3 286.9L309.5 286.9L309.6 286.9L309.8 286.9L309.9 286.8L310.1 286.8L310.2 286.8L310.4 286.8L310.5 286.8L310.7 286.8L310.8 286.7L311.0 286.7L311.1 286.7L311.3 286.7L311.4 286.7L311.5 286.7L311.7 286.6L311.8 286.6L312.0 286.6L312.1 286.6L312.3 286.6L312.4 286.6L312.6 286.6L312.7 286.5L312.9 286.5L313.0 286.5L313.2 286.5L313.3 286.5L313.4 286.5L313.6 286.4L313.7 286.4L313.9 286.4L314.0 286.4L314.2 286.4L314.3 286.4L314.5 286.3L314.6 286.3L314.8 286.3L314.9 286.3L315.1 286.3L315.2 286.3L315.3 286.2L315.5 286.2L315.6 286.2L315.8 286.2L315.9 286.2L316.1 286.2L316.2 286.2L316.4 286.1L316.5 286.1L316.7 286.1L316.8 286.1L317.0 286.1L317.1 286.1L317.2 286.0L317.4 286.0L317.5 286.0L317.7 286.0L317.8 286.0L318.0 286.0L318.1 285.9L318.3 285.9L318.4 285.9L318.6 285.9L318.7 285.9L318.9 285.9L319.0 285.9L319.1 285.8L319.3 285.8L319.4 285.8L319.6 285.8L319.7 285.8L319.9 285.8L320.0 285.7L320.2 285.7L320.3 285.7L320.5 285.7L320.6 285.7L320.8 285.7L320.9 285.7L321.0 285.6L321.2 285.6L321.3 285.6L321.5 285.6L321.6 285.6L321.8 285.6L321.9 285.6L322.1 285.5L322.2 285.5L322.4 285.5L322.5 285.5L322.7 285.5L322.8 285.5L322.9 285.5L323.1 285.4L323.2 285.4L323.4 285.4L323.5 285.4L323.7 285.4L323.8 285.4L324.0 285.4L324.1 285.3L324.3 285.3L324.4 285.3L324.6 285.3L324.7 285.3L324.8 285.3L325.0 285.3L325.1 285.3L325.3 285.2L325.4 285.2L325.6 285.2L325.7 285.2L325.9 285.2L326.0 285.2L326.2 285.2L326.3 285.2L326.5 285.1L326.6 285.1L326.8 285.1L326.9 285.1L327.0 285.1L327.2 285.1L327.3 285.1L327.5 285.1L327.6 285.0L327.8 285.0L327.9 285.0L328.1 285.0L328.2 285.0L328.4 285.0L328.5 285.0L328.7 285.0L328.8 284.9L328.9 284.9L329.1 284.9L329.2 284.9L329.4 284.9L329.5 284.9L329.7 284.9L329.8 284.8L330.0 284.8L330.1 284.8L330.3 284.8L330.4 284.8L330.6 284.8L330.7 284.8L330.8 284.8L331.0 284.7L331.1 284.7L331.3 284.7L331.4 284.7L331.6 284.7L331.7 284.7L331.9 284.6L332.0 284.6L332.2 284.6L332.3 284.6L332.5 284.6L332.6 284.6L332.7 284.6L332.9 284.5L333.0 284.5L333.2 284.5L333.3 284.5L333.5 284.5L333.6 284.5L333.8 284.4L333.9 284.4L334.1 284.4L334.2 284.4L334.4 284.4L334.5 284.4L334.6 284.3L334.8 284.3L334.9 284.3L335.1 284.3L335.2 284.3L335.4 284.2L335.5 284.2L335.7 284.2L335.8 284.2L336.0 284.2L336.1 284.1L336.3 284.1L336.4 284.1L336.5 284.1L336.7 284.1L336.8 284.0L337.0 284.0L337.1 284.0L337.3 284.0L337.4 283.9L337.6 283.9L337.7 283.9L337.9 283.9L338.0 283.8L338.2 283.8L338.3 283.8L338.4 283.8L338.6 283.7L338.7 283.7L338.9 283.7L339.0 283.7L339.2 283.6L339.3 283.6L339.5 283.6L339.6 283.6L339.8 283.5L339.9 283.5L340.1 283.5L340.2 283.4L340.3 283.4L340.5 283.4L340.6 283.4L340.8 283.3L340.9 283.3L341.1 283.3L341.2 283.3L341.4 283.3L341.5 283.2L341.7 283.2L341.8 283.2L342.0 283.2L342.1 283.1L342.2 283.1L342.4 283.1L342.5 283.1L342.7 283.1L342.8 283.0L343.0 283.0L343.1 283.0L343.3 283.0L343.4 283.0L343.6 283.0L343.7 282.9L343.9 282.9L344.0 282.9L344.2 282.9L344.3 282.9L344.4 282.9L344.6 282.8L344.7 282.8L344.9 282.8L345.0 282.8L345.2 282.8L345.3 282.8L345.5 282.8L345.6 282.8L345.8 282.7L345.9 282.7L346.1 282.7L346.2 282.7L346.3 282.7L346.5 282.7L346.6 282.7L346.8 282.7L346.9 282.7L347.1 282.7L347.2 282.7L347.4 282.7L347.5 282.7L347.7 282.7L347.8 282.7L348.0 282.7L348.1 282.7L348.2 282.7L348.4 282.7L348.5 282.7L348.7 282.7L348.8 282.7L349.0 282.7L349.1 282.7L349.3 282.8L349.4 282.8L349.6 282.8L349.7 282.8L349.9 282.8L350.0 282.8L350.1 282.8L350.3 282.9L350.4 282.9L350.6 282.9L350.7 282.9L350.9 282.9L351.0 282.9L351.2 283.0L351.3 283.0L351.5 283.0L351.6 283.0L351.8 283.0L351.9 283.1L352.0 283.1L352.2 283.1L352.3 283.1L352.5 283.2L352.6 283.2L352.8 283.2L352.9 283.2L353.1 283.3L353.2 283.3L353.4 283.3L353.5 283.3L353.7 283.4L353.8 283.4L353.9 283.4L354.1 283.5L354.2 283.5L354.4 283.5L354.5 283.6L354.7 283.6L354.8 283.6L355.0 283.7L355.1 283.7L355.3 283.7L355.4 283.8L355.6 283.8L355.7 283.8L355.8 283.9L356.0 283.9L356.1 284.0L356.3 284.0L356.4 284.0L356.6 284.1L356.7 284.1L356.9 284.1L357.0 284.2L357.2 284.2L357.3 284.3L357.5 284.3L357.6 284.3L357.7 284.4L357.9 284.4L358.0 284.4L358.2 284.5L358.3 284.5L358.5 284.5L358.6 284.6L358.8 284.6L358.9 284.6L359.1 284.7L359.2 284.7L359.4 284.7L359.5 284.8L359.7 284.8L359.8 284.8L359.9 284.9L360.1 284.9L360.2 284.9L360.4 284.9L360.5 285.0L360.7 285.0L360.8 285.0L361.0 285.1L361.1 285.1L361.3 285.1L361.4 285.1L361.6 285.2L361.7 285.2L361.8 285.2L362.0 285.2L362.1 285.3L362.3 285.3L362.4 285.3L362.6 285.3L362.7 285.3L362.9 285.4L363.0 285.4L363.2 285.4L363.3 285.4L363.5 285.4L363.6 285.4L363.7 285.5L363.9 285.5L364.0 285.5L364.2 285.5L364.3 285.5L364.5 285.5L364.6 285.5L364.8 285.5L364.9 285.5L365.1 285.5L365.2 285.6L365.4 285.6L365.5 285.6L365.6 285.6L365.8 285.6L365.9 285.6L366.1 285.6L366.2 285.6L366.4 285.6L366.5 285.6L366.7 285.6L366.8 285.6L367.0 285.6L367.1 285.6L367.3 285.6L367.4 285.6L367.5 285.6L367.7 285.6L367.8 285.6L368.0 285.6L368.1 285.6L368.3 285.6L368.4 285.6L368.6 285.6L368.7 285.5L368.9 285.5L369.0 285.5L369.2 285.5L369.3 285.5L369.4 285.5L369.6 285.5L369.7 285.5L369.9 285.5L370.0 285.4L370.2 285.4L370.3 285.4L370.5 285.4L370.6 285.4L370.8 285.4L370.9 285.4L371.1 285.3L371.2 285.3L371.3 285.3L371.5 285.3L371.6 285.3L371.8 285.3L371.9 285.2L372.1 285.2L372.2 285.2L372.4 285.2L372.5 285.1L372.7 285.1L372.8 285.1L373.0 285.1L373.1 285.1L373.2 285.0L373.4 285.0L373.5 285.0L373.7 285.0L373.8 284.9L374.0 284.9L374.1 284.9L374.3 284.9L374.4 284.9L374.6 284.8L374.7 284.8L374.9 284.8L375.0 284.8L375.1 284.7L375.3 284.7L375.4 284.7L375.6 284.7L375.7 284.7L375.9 284.6L376.0 284.6L376.2 284.6L376.3 284.6L376.5 284.5L376.6 284.5L376.8 284.5L376.9 284.5L377.1 284.4L377.2 284.4L377.3 284.4L377.5 284.4L377.6 284.3L377.8 284.3L377.9 284.3L378.1 284.3L378.2 284.2L378.4 284.2L378.5 284.2L378.7 284.2L378.8 284.2L379.0 284.1L379.1 284.1L379.2 284.1L379.4 284.1L379.5 284.1L379.7 284.0L379.8 284.0L380.0 284.0L380.1 284.0L380.3 284.0L380.4 284.0L380.6 284.0L380.7 283.9L380.9 283.9L381.0 283.9L381.1 283.9L381.3 283.9L381.4 283.9L381.6 283.9L381.7 283.9L381.9 283.8L382.0 283.8L382.2 283.8L382.3 283.8L382.5 283.8L382.6 283.8L382.8 283.8L382.9 283.8L383.0 283.8L383.2 283.7L383.3 283.7L383.5 283.7L383.6 283.7L383.8 283.7L383.9 283.7L384.1 283.7L384.2 283.7L384.4 283.7L384.5 283.7L384.7 283.7L384.8 283.7L384.9 283.7L385.1 283.7L385.2 283.7L385.4 283.7L385.5 283.7L385.7 283.7L385.8 283.7L386.0 283.7L386.1 283.7L386.3 283.7L386.4 283.7L386.6 283.7L386.7 283.8L386.8 283.8L387.0 283.8L387.1 283.8L387.3 283.8L387.4 283.8L387.6 283.8L387.7 283.8L387.9 283.8L388.0 283.8L388.2 283.8L388.3 283.9L388.5 283.9L388.6 283.9L388.7 283.9L388.9 283.9L389.0 283.9L389.2 283.9L389.3 284.0L389.5 284.0L389.6 284.0L389.8 284.0L389.9 284.1L390.1 284.1L390.2 284.1L390.4 284.1L390.5 284.1L390.6 284.2L390.8 284.2L390.9 284.2L391.1 284.2L391.2 284.3L391.4 284.3L391.5 284.3L391.7 284.3L391.8 284.3L392.0 284.4L392.1 284.4L392.3 284.4L392.4 284.4L392.6 284.5L392.7 284.5L392.8 284.5L393.0 284.5L393.1 284.6L393.3 284.6L393.4 284.6L393.6 284.7L393.7 284.7L393.9 284.7L394.0 284.7L394.2 284.8L394.3 284.8L394.5 284.8L394.6 284.9L394.7 284.9L394.9 284.9L395.0 284.9L395.2 285.0L395.3 285.0L395.5 285.0L395.6 285.0L395.8 285.1L395.9 285.1L396.1 285.1L396.2 285.2L396.4 285.2L396.5 285.2L396.6 285.2L396.8 285.2L396.9 285.3L397.1 285.3L397.2 285.3L397.4 285.3L397.5 285.4L397.7 285.4L397.8 285.4L398.0 285.4L398.1 285.4L398.3 285.5L398.4 285.5L398.5 285.5L398.7 285.5L398.8 285.5L399.0 285.5L399.1 285.6L399.3 285.6L399.4 285.6L399.6 285.6L399.7 285.6L399.9 285.7L400.0 285.7L400.2 285.7L400.3 285.7L400.4 285.7L400.6 285.7L400.7 285.8L400.9 285.8L401.0 285.8L401.2 285.8L401.3 285.8L401.5 285.8L401.6 285.9L401.8 285.9L401.9 285.9L402.1 285.9L402.2 285.9L402.3 285.9L402.5 286.0L402.6 286.0L402.8 286.0L402.9 286.0L403.1 286.0L403.2 286.0L403.4 286.1L403.5 286.1L403.7 286.1L403.8 286.1L404.0 286.1L404.1 286.1L404.2 286.1L404.4 286.2L404.5 286.2L404.7 286.2L404.8 286.2L405.0 286.2L405.1 286.2L405.3 286.2L405.4 286.3L405.6 286.3L405.7 286.3L405.9 286.3L406.0 286.3L406.1 286.3L406.3 286.3L406.4 286.4L406.6 286.4L406.7 286.4L406.9 286.4L407.0 286.4L407.2 286.4L407.3 286.4L407.5 286.5L407.6 286.5L407.8 286.5L407.9 286.5L408.0 286.5L408.2 286.5L408.3 286.5L408.5 286.6L408.6 286.6L408.8 286.6L408.9 286.6L409.1 286.6L409.2 286.6L409.4 286.6L409.5 286.7L409.7 286.7L409.8 286.7L410.0 286.7L410.1 286.7L410.2 286.7L410.4 286.7L410.5 286.7L410.7 286.8L410.8 286.8L411.0 286.8L411.1 286.8L411.3 286.8L411.4 286.8L411.6 286.8L411.7 286.8L411.9 286.9L412.0 286.9L412.1 286.9L412.3 286.9L412.4 286.9L412.6 286.9L412.7 286.9L412.9 286.9L413.0 286.9L413.2 287.0L413.3 287.0L413.5 287.0L413.6 287.0L413.8 287.0L413.9 287.0L414.0 287.0L414.2 287.0L414.3 287.0L414.5 287.1L414.6 287.1L414.8 287.1L414.9 287.1L415.1 287.1L415.2 287.1L415.4 287.1L415.5 287.1L415.7 287.1L415.8 287.1L415.9 287.2L416.1 287.2L416.2 287.2L416.4 287.2L416.5 287.2L416.7 287.2L416.8 287.2L417.0 287.2L417.1 287.2L417.3 287.2L417.4 287.3L417.6 287.3L417.7 287.3L417.8 287.3L418.0 287.3L418.1 287.3L418.3 287.3L418.4 287.3L418.6 287.3L418.7 287.3L418.9 287.3L419.0 287.4L419.2 287.4L419.3 287.4L419.5 287.4L419.6 287.4L419.7 287.4L419.9 287.4L420.0 287.4L420.2 287.4L420.3 287.4L420.5 287.4L420.6 287.4L420.8 287.5L420.9 287.5L421.1 287.5L421.2 287.5L421.4 287.5L421.5 287.5L421.6 287.5L421.8 287.5L421.9 287.5L422.1 287.5L422.2 287.5L422.4 287.5L422.5 287.5L422.7 287.6L422.8 287.6L423.0 287.6L423.1 287.6L423.3 287.6L423.4 287.6L423.5 287.6L423.7 287.6L423.8 287.6L424.0 287.6L424.1 287.6L424.3 287.6L424.4 287.7L424.6 287.7L424.7 287.7L424.9 287.7L425.0 287.7L425.2 287.7L425.3 287.7L425.5 287.7L425.6 287.7L425.7 287.7L425.9 287.7L426.0 287.7L426.2 287.7L426.3 287.7L426.5 287.8L426.6 287.8L426.8 287.8L426.9 287.8L427.1 287.8L427.2 287.8L427.4 287.8L427.5 287.8L427.6 287.8L427.8 287.8L427.9 287.8L428.1 287.8L428.2 287.8L428.4 287.8L428.5 287.9L428.7 287.9L428.8 287.9L429.0 287.9L429.1 287.9L429.3 287.9L429.4 287.9L429.5 287.9L429.7 287.9L429.8 287.9L430.0 287.9L430.1 287.9L430.3 287.9L430.4 287.9L430.6 287.9L430.7 288.0L430.9 288.0L431.0 288.0L431.2 288.0L431.3 288.0L431.4 288.0L431.6 288.0L431.7 288.0L431.9 288.0L432.0 288.0L432.2 288.0L432.3 288.0L432.5 288.0L432.6 288.0L432.8 288.0L432.9 288.1L433.1 288.1L433.2 288.1L433.3 288.1L433.5 288.1L433.6 288.1L433.8 288.1L433.9 288.1L434.1 288.1L434.2 288.1L434.4 288.1L434.5 288.1L434.7 288.1L434.8 288.1L435.0 288.1L435.1 288.1L435.2 288.1L435.4 288.2L435.5 288.2L435.7 288.2L435.8 288.2L436.0 288.2L436.1 288.2L436.3 288.2L436.4 288.2L436.6 288.2L436.7 288.2L436.9 288.2L437.0 288.2L437.1 288.2L437.3 288.2L437.4 288.2L437.6 288.2L437.7 288.2L437.9 288.3L438.0 288.3L438.2 288.3L438.3 288.3L438.5 288.3L438.6 288.3L438.8 288.3L438.9 288.3L439.0 288.3L439.2 288.3L439.3 288.3L439.5 288.3L439.6 288.3L439.8 288.3L439.9 288.3L440.1 288.3L440.2 288.3L440.4 288.3L440.5 288.4L440.7 288.4L440.8 288.4L440.9 288.4L441.1 288.4L441.2 288.4L441.4 288.4L441.5 288.4L441.7 288.4L441.8 288.4L442.0 288.4L442.1 288.4L442.3 288.4L442.4 288.4L442.6 288.4L442.7 288.4L442.9 288.4L443.0 288.4L443.1 288.5L443.3 288.5L443.4 288.5L443.6 288.5L443.7 288.5L443.9 288.5L444.0 288.5L444.2 288.5L444.3 288.5L444.5 288.5L444.6 288.5L444.8 288.5L444.9 288.5L445.0 288.5L445.2 288.5L445.3 288.5L445.5 288.5L445.6 288.5L445.8 288.5L445.9 288.5L446.1 288.5L446.2 288.5L446.4 288.5L446.5 288.6L446.7 288.6L446.8 288.6L446.9 288.6L447.1 288.6L447.2 288.6L447.4 288.6L447.5 288.6L447.7 288.6L447.8 288.6L448.0 288.6L448.1 288.6L448.3 288.6L448.4 288.6L448.6 288.6L448.7 288.6L448.8 288.6L449.0 288.6L449.1 288.6L449.3 288.6L449.4 288.6L449.6 288.6L449.7 288.6L449.9 288.6L450.0 288.6L450.2 288.6L450.3 288.6L450.5 288.6L450.6 288.6L450.7 288.7L450.9 288.7L451.0 288.7L451.2 288.7L451.3 288.7L451.5 288.7L451.6 288.7L451.8 288.7L451.9 288.7L452.1 288.7L452.2 288.7L452.4 288.7L452.5 288.7L452.6 288.7L452.8 288.7L452.9 288.7L453.1 288.7L453.2 288.7L453.4 288.7L453.5 288.7L453.7 288.7L453.8 288.7L454.0 288.7L454.1 288.7L454.3 288.7L454.4 288.7L454.5 288.7L454.7 288.7L454.8 288.7L455.0 288.7L455.1 288.7L455.3 288.7L455.4 288.7L455.6 288.8L455.7 288.8L455.9 288.8L456.0 288.8L456.2 288.8L456.3 288.8L456.4 288.8L456.6 288.8L456.7 288.8L456.9 288.8L457.0 288.8L457.2 288.8L457.3 288.8L457.5 288.8L457.6 288.8L457.8 288.8L457.9 288.8L458.1 288.8L458.2 288.8L458.4 288.8L458.5 288.8L458.6 288.8L458.8 288.8L458.9 288.8L459.1 288.8L459.2 288.8L459.4 288.8L459.5 288.8L459.7 288.8L459.8 288.8L460.0 288.8L460.1 288.8L460.3 288.8L460.4 288.8L460.5 288.8L460.7 288.8L460.8 288.8L461.0 288.8L461.1 288.8L461.3 288.8L461.4 288.8L461.6 288.8L461.7 288.8L461.9 288.8L462.0 288.8L462.2 288.9L462.3 288.9L462.4 288.9L462.6 288.9L462.7 288.9L462.9 288.9L463.0 288.9L463.2 288.9L463.3 288.9L463.5 288.9L463.6 288.9L463.8 288.9L463.9 288.9L464.1 288.9L464.2 288.9L464.3 288.9L464.5 288.9L464.6 288.9L464.8 288.9L464.9 288.9L465.1 288.9L465.2 288.9L465.4 288.9L465.5 288.9L465.7 288.9L465.8 288.9L466.0 288.9L466.1 288.9L466.2 288.9L466.4 288.9L466.5 288.9L466.7 288.9L466.8 288.9L467.0 288.9L467.1 288.9L467.3 288.9L467.4 288.9L467.6 288.9L467.7 288.9L467.9 288.9L468.0 288.9L468.1 288.9L468.3 288.9L468.4 288.9L468.6 288.9L468.7 288.9L468.9 288.9L469.0 288.9L469.2 288.9L469.3 288.9L469.5 288.9L469.6 288.9L469.8 288.9L469.9 288.9L470.0 288.9L470.2 288.9L470.3 288.9L470.5 288.9L470.6 288.9L470.8 288.9L470.9 288.9L471.1 288.9L471.2 288.9L471.4 288.9L471.5 288.9L471.7 288.9L471.8 288.9L471.9 288.9L472.1 288.9L472.2 288.9L472.4 288.9L472.5 288.9L472.7 288.9L472.8 288.9L473.0 288.9L473.1 288.9L473.3 288.9L473.4 288.9L473.6 288.9L473.7 288.9L473.8 288.9L474.0 288.9L474.1 288.9L474.3 288.9L474.4 289.0L474.6 289.0L474.7 289.0L474.9 289.0L475.0 289.0L475.2 289.0L475.3 289.0L475.5 289.0L475.6 289.0L475.8 289.0L475.9 289.0L476.0 289.0L476.2 289.0L476.3 289.0L476.5 289.0L476.6 289.0L476.8 289.0L476.9 289.0L477.1 289.0L477.2 289.0L477.4 289.0L477.5 289.0L477.7 289.0L477.8 289.0L477.9 289.0L478.1 289.0L478.2 289.0L478.4 289.0L478.5 289.0L478.7 289.0L478.8 289.0L479.0 289.0L479.1 289.0L479.3 289.0L479.4 289.0L479.6 289.0L479.7 289.0L479.8 289.0L480.0 289.0L480.1 289.0L480.3 289.0L480.4 289.0L480.6 289.0L480.7 289.0L480.9 289.0L481.0 289.0L481.2 289.0L481.3 289.0L481.5 289.0L481.6 289.0L481.7 289.0L481.9 289.0L482.0 289.0L482.2 289.0L482.3 289.0L482.5 289.0L482.6 289.0L482.8 289.0L482.9 289.0L483.1 289.0L483.2 289.0L483.4 289.0L483.5 289.0L483.6 289.0L483.8 289.0L483.9 289.0L484.1 289.0L484.2 289.0L484.4 289.0L484.5 289.0L484.7 289.0L484.8 289.0L485.0 289.0L485.1 289.0L485.3 289.0L485.4 289.0L485.5 289.0L485.7 289.0L485.8 289.0L486.0 289.0L486.1 289.0L486.3 289.0L486.4 289.0L486.6 289.0L486.7 289.0L486.9 289.0L487.0 289.0L487.2 289.0L487.3 289.0L487.4 289.0L487.6 289.0L487.7 289.0L487.9 289.0L488.0 289.0L488.2 289.0L488.3 289.0L488.5 289.0L488.6 289.0L488.8 289.0L488.9 289.0L489.1 289.0L489.2 289.0L489.3 289.0L489.5 289.0L489.6 289.0L489.8 289.0L489.9 289.0L490.1 289.0L490.2 289.0L490.4 289.0L490.5 289.0L490.7 289.0L490.8 289.0L491.0 289.0L491.1 289.0L491.3 289.0L491.4 289.0L491.5 289.0L491.7 289.0L491.8 289.0L492.0 289.0L492.1 289.0L492.3 289.0L492.4 289.0L492.6 289.0L492.7 289.0L492.9 289.0L493.0 289.0L493.2 289.0L493.3 289.0L493.4 289.0L493.6 289.0L493.7 289.0L493.9 289.0L494.0 289.0L494.2 289.0L494.3 289.0L494.5 289.0L494.6 289.0L494.8 289.0L494.9 289.0L495.1 289.0L495.2 289.0L495.3 289.0L495.5 289.0L495.6 289.0L495.8 289.0L495.9 289.0L496.1 289.0L496.2 289.0L496.4 289.0L496.5 289.0L496.7 289.0L496.8 289.0L497.0 289.0L497.1 289.0L497.2 289.0L497.4 289.0L497.5 289.0L497.7 289.0L497.8 289.0L498.0 289.0L498.1 289.0L498.3 289.0L498.4 289.0L498.6 289.0L498.7 289.1L498.9 289.1L499.0 289.1L499.1 289.1L499.3 289.1L499.4 289.1L499.6 289.1L499.7 289.1L499.9 289.1L500.0 289.1L500.2 289.1L500.3 289.1L500.5 289.1L500.6 289.1L500.8 289.1L500.9 289.1L501.0 289.1L501.2 289.1L501.3 289.1L501.5 289.1L501.6 289.1L501.8 289.1L501.9 289.1L502.1 289.1L502.2 289.1L502.4 289.1L502.5 289.1L502.7 289.1L502.8 289.1L502.9 289.1L503.1 289.1L503.2 289.1L503.4 289.1L503.5 289.1L503.7 289.1L503.8 289.1L504.0 289.1L504.1 289.1L504.3 289.1L504.4 289.1L504.6 289.1L504.7 289.1L504.8 289.1L505.0 289.1L505.1 289.1L505.3 289.1L505.4 289.1L505.6 289.1L505.7 289.1L505.9 289.1L506.0 289.1L506.2 289.1L506.3 289.1L506.5 289.1L506.6 289.1L506.7 289.1L506.9 289.1L507.0 289.1L507.2 289.1L507.3 289.1L507.5 289.1L507.6 289.1L507.8 289.1L507.9 289.1L508.1 289.1L508.2 289.1L508.4 289.1L508.5 289.1L508.7 289.1L508.8 289.1L508.9 289.1L509.1 289.1L509.2 289.1L509.4 289.1L509.5 289.1L509.7 289.1L509.8 289.1L510.0 289.1L510.1 289.1L510.3 289.1L510.4 289.1L510.6 289.1L510.7 289.1L510.8 289.1L511.0 289.1L511.1 289.1L511.3 289.1L511.4 289.1L511.6 289.1L511.7 289.1L511.9 289.1L512.0 289.1L512.2 289.1L512.3 289.1L512.5 289.1L512.6 289.1L512.7 289.1L512.9 289.1L513.0 289.1L513.2 289.1L513.3 289.1L513.5 289.1L513.6 289.1L513.8 289.1L513.9 289.1L514.1 289.1L514.2 289.1L514.4 289.1L514.5 289.1L514.6 289.1L514.8 289.1L514.9 289.1L515.1 289.1L515.2 289.1L515.4 289.1L515.5 289.1L515.7 289.1L515.8 289.1L516.0 289.1L516.1 289.1L516.3 289.1L516.4 289.1L516.5 289.1L516.7 289.1L516.8 289.1L517.0 289.1L517.1 289.1L517.3 289.1L517.4 289.1L517.6 289.1L517.7 289.1L517.9 289.1L518.0 289.1L518.2 289.1L518.3 289.1L518.4 289.1L518.6 289.1L518.7 289.1L518.9 289.1L519.0 289.1L519.2 289.1L519.3 289.1L519.5 289.1L519.6 289.1L519.8 289.1L519.9 289.1L520.1 289.1L520.2 289.1L520.3 289.1L520.5 289.1L520.6 289.1L520.8 289.1L520.9 289.1L521.1 289.1L521.2 289.1L521.4 289.1L521.5 289.1L521.7 289.1L521.8 289.1L522.0 289.1L522.1 289.1L522.2 289.1L522.4 289.1L522.5 289.1L522.7 289.1L522.8 289.1L523.0 289.1L523.1 289.1L523.3 289.1L523.4 289.1L523.6 289.1L523.7 289.1L523.9 289.1L524.0 289.1L524.2 289.1L524.3 289.1L524.4 289.1L524.6 289.1L524.7 289.1L524.9 289.1L525.0 289.1L525.2 289.1L525.3 289.1L525.5 289.1L525.6 289.1L525.8 289.1L525.9 289.1L526.1 289.1L526.2 289.1L526.3 289.1L526.5 289.1L526.6 289.1L526.8 289.1L526.9 289.1L527.1 289.1L527.2 289.1L527.4 289.1L527.5 289.1L527.7 289.1L527.8 289.1L528.0 289.1L528.1 289.1L528.2 289.1L528.4 289.1L528.5 289.1L528.7 289.1L528.8 289.1L529.0 289.1L529.1 289.1L529.3 289.1L529.4 289.1L529.6 289.1L529.7 289.1L529.9 289.1L530.0 289.1L530.1 289.1L530.3 289.1L530.4 289.1L530.6 289.1L530.7 289.1L530.9 289.1L531.0 289.1L531.2 289.1L531.3 289.1L531.5 289.1L531.6 289.1L531.8 289.1L531.9 289.1L532.0 289.1L532.2 289.1L532.3 289.1L532.5 289.1L532.6 289.1L532.8 289.1L532.9 289.1L533.1 289.1L533.2 289.1L533.4 289.1L533.5 289.1L533.7 289.1L533.8 289.1L533.9 289.1L534.1 289.1L534.2 289.1L534.4 289.1L534.5 289.1L534.7 289.1L534.8 289.1L535.0 289.1L535.1 289.1L535.3 289.1L535.4 289.1L535.6 289.1L535.7 289.1L535.8 289.1L536.0 289.1L536.1 289.1L536.3 289.1L536.4 289.1L536.6 289.1L536.7 289.1L536.9 289.1L537.0 289.1L537.2 289.1L537.3 289.1L537.5 289.1L537.6 289.1L537.7 289.1L537.9 289.1L538.0 289.1L538.2 289.1L538.3 289.1L538.5 289.1L538.6 289.1L538.8 289.1L538.9 289.1L539.1 289.1L539.2 289.1L539.4 289.1L539.5 289.1L539.6 289.1L539.8 289.1L539.9 289.1L540.1 289.1L540.2 289.1L540.4 289.1L540.5 289.1L540.7 289.1L540.8 289.1L541.0 289.1L541.1 289.1L541.3 289.1L541.4 289.1L541.6 289.1L541.7 289.1L541.8 289.1L542.0 289.1L542.1 289.1L542.3 289.1L542.4 289.1L542.6 289.1L542.7 289.1L542.9 289.1L543.0 289.1L543.2 289.1L543.3 289.1L543.5 289.1L543.6 289.1L543.7 289.1L543.9 289.1L544.0 289.1L544.2 289.1L544.3 289.1L544.5 289.1L544.6 289.1L544.8 289.1L544.9 289.1L545.1 289.1L545.2 289.1L545.4 289.1L545.5 289.1L545.6 289.1L545.8 289.1L545.9 289.1L546.1 289.1L546.2 289.1L546.4 289.1L546.5 289.1L546.7 289.1L546.8 289.1L547.0 289.1L547.1 289.1L547.3 289.1L547.4 289.1L547.5 289.1L547.7 289.1L547.8 289.1L548.0 289.1L548.1 289.1L548.3 289.1L548.4 289.1L548.6 289.1L548.7 289.1L548.9 289.1L549.0 289.1L549.2 289.1L549.3 289.1L549.4 289.1L549.6 289.1L549.7 289.1L549.9 289.1L550.0 289.1L550.2 289.1L550.3 289.1L550.5 289.1L550.6 289.1L550.8 289.1L550.9 289.1L551.1 289.1L551.2 289.1L551.3 289.1L551.5 289.1L551.6 289.1L551.8 289.1L551.9 289.1L552.1 289.1L552.2 289.1L552.4 289.1L552.5 289.1L552.7 289.1L552.8 289.1L553.0 289.1L553.1 289.1L553.2 289.1L553.4 289.1L553.5 289.1L553.7 289.1L553.8 289.1L554.0 289.1L554.1 289.1L554.3 289.1L554.4 289.1L554.6 289.1L554.7 289.1L554.9 289.1L555.0 289.1L555.1 289.1L555.3 289.1L555.4 289.1L555.6 289.1L555.7 289.1L555.9 289.1L556.0 289.1L556.2 289.1L556.3 289.1L556.5 289.1L556.6 289.1L556.8 289.1L556.9 289.1L557.1 289.1L557.2 289.1L557.3 289.1L557.5 289.1L557.6 289.1L557.8 289.1L557.9 289.1L558.1 289.1L558.2 289.1L558.4 289.1L558.5 289.1L558.7 289.1L558.8 289.1L559.0 289.1L559.1 289.1L559.2 289.1L559.4 289.1L559.5 289.1L559.7 289.1L559.8 289.1L560.0 289.1L560.1 289.1L560.3 289.1L560.4 289.1L560.6 289.1L560.7 289.1L560.9 289.1L561.0 289.1L561.1 289.1L561.3 289.1L561.4 289.1L561.6 289.1L561.7 289.1L561.9 289.1L562.0 289.1L562.2 289.1L562.3 289.1L562.5 289.1L562.6 289.1L562.8 289.1L562.9 289.1L563.0 289.1L563.2 289.1L563.3 289.1L563.5 289.1L563.6 289.1L563.8 289.1L563.9 289.1L564.1 289.1L564.2 289.1L564.4 289.1L564.5 289.1L564.7 289.1L564.8 289.1" stroke="#8b008b" stroke-width="2.4"/></g><path d="M38.40 294.2 V300.4M53.02 294.2 V298.4M67.64 294.2 V298.4M82.27 294.2 V298.4M96.89 294.2 V300.4M111.51 294.2 V298.4M126.13 294.2 V298.4M140.76 294.2 V298.4M155.38 294.2 V300.4M170.00 294.2 V298.4M184.62 294.2 V298.4M199.24 294.2 V298.4M213.87 294.2 V300.4M228.49 294.2 V298.4M243.11 294.2 V298.4M257.73 294.2 V298.4M272.36 294.2 V300.4M286.98 294.2 V298.4M301.60 294.2 V298.4M316.22 294.2 V298.4M330.84 294.2 V300.4M345.47 294.2 V298.4M360.09 294.2 V298.4M374.71 294.2 V298.4M389.33 294.2 V300.4M403.96 294.2 V298.4M418.58 294.2 V298.4M433.20 294.2 V298.4M447.82 294.2 V300.4M462.44 294.2 V298.4M477.07 294.2 V298.4M491.69 294.2 V298.4M506.31 294.2 V300.4M520.93 294.2 V298.4M535.56 294.2 V298.4M550.18 294.2 V298.4M564.80 294.2 V300.4" stroke="#000" stroke-width="2" fill="none"/><g font-family="'Liberation Serif','Times New Roman',serif" font-weight="bold" font-size="18" letter-spacing="0.4" text-anchor="middle" fill="#000"><text x="38.4" y="328.4">1.0</text><text x="96.9" y="328.4">2.0</text><text x="155.4" y="328.4">3.0</text><text x="213.9" y="328.4">4.0</text><text x="272.4" y="328.4">5.0</text><text x="330.8" y="328.4">6.0</text><text x="389.3" y="328.4">7.0</text><text x="447.8" y="328.4">8.0</text><text x="506.3" y="328.4">9.0</text><text x="564.8" y="328.4">10.0</text></g><path d="M97.4 296.2 V251.2 H447.0 V298.7" fill="none" stroke="#000" stroke-width="3.8" stroke-linejoin="miter"/><g stroke="#000" stroke-width="3.8" stroke-dasharray="3.9 4" fill="none"><path d="M97.4 251.2 L169.3 384.0" stroke-dashoffset="0.7"/><path d="M95.3 294.2 L171.3 613.5" stroke-dasharray="3.9 3.94" stroke-dashoffset="5.29"/><path d="M446.6 251.2 L585.5 384.0" stroke-dashoffset="1.0"/><path d="M445.0 294.2 L487.3 388.0" stroke-dashoffset="6.25"/></g><rect x="170.5" y="384.0" width="420.0" height="229.5" fill="#fff"/><rect x="126" y="460" width="26" height="67" fill="#fff"/><rect x="170.5" y="384.0" width="420.0" height="229.5" fill="none" stroke="#000" stroke-width="1.7"/><g clip-path="url(#cb)" fill="none" stroke-linejoin="round" stroke-linecap="round"><path d="M171.6 613.5L172.8 613.5L174.0 613.5L175.2 613.5L176.5 613.5L177.7 613.5L178.9 613.5L180.1 613.5L181.4 613.5L182.6 613.5L183.8 613.5L185.0 613.5L186.3 613.5L187.5 613.5L188.7 613.5L189.9 613.5L191.2 613.5L192.4 613.5L193.6 613.5L194.8 613.5L196.1 613.5L197.3 613.4L198.5 613.2L199.7 610.4L201.0 606.6L202.2 600.0L203.4 592.8L204.6 579.4L205.9 563.4L207.1 546.8L208.3 529.9L209.5 514.7L210.8 513.7L212.0 512.6L213.2 518.9L214.4 528.5L215.7 533.4L216.9 544.5L218.1 553.3L219.3 564.0L220.6 571.8L221.8 582.9L223.0 589.6L224.2 596.1L225.5 600.4L226.7 603.5L227.9 606.5L229.1 608.7L230.4 609.7L231.6 610.6L232.8 611.8L234.0 611.8L235.3 612.0L236.5 612.6L237.7 612.4L238.9 612.6L240.2 612.6L241.4 612.7L242.6 612.7L243.8 612.8L245.1 612.8L246.3 612.8L247.5 612.8L248.7 612.9L250.0 612.9L251.2 612.9L252.4 612.9L253.6 612.9L254.9 612.9L256.1 612.9L257.3 612.9L258.5 613.0L259.8 613.0L261.0 613.0L262.2 613.0L263.4 613.0L264.7 613.0L265.9 613.0L267.1 613.0L268.3 613.0L269.6 613.0L270.8 613.0L272.0 613.0L273.2 613.0L274.5 613.0L275.7 613.0L276.9 612.9L278.1 612.9L279.4 612.9L280.6 612.8L281.8 612.8L283.0 612.8L284.3 612.7L285.5 612.7L286.7 612.6L287.9 612.6L289.2 612.5L290.4 612.7L291.6 612.4L292.8 612.2L294.1 612.2L295.3 612.1L296.5 612.4L297.7 611.8L299.0 611.9L300.2 611.5L301.4 611.2L302.6 611.4L303.9 611.3L305.1 610.4L306.3 610.4L307.5 610.5L308.8 611.1L310.0 609.7L311.2 609.1L312.4 608.4L313.7 608.7L314.9 608.2L316.1 607.5L317.3 606.2L318.6 606.7L319.8 605.5L321.0 605.4L322.2 604.2L323.5 604.7L324.7 603.1L325.9 603.1L327.1 602.5L328.4 601.5L329.6 600.6L330.8 602.0L332.0 599.7L333.3 599.5L334.5 599.6L335.7 597.9L336.9 598.3L338.2 597.0L339.4 597.8L340.6 597.5L341.8 595.4L343.1 594.2L344.3 594.9L345.5 594.2L346.7 594.8L348.0 595.1L349.2 593.8L350.4 592.1L351.6 594.3L352.9 592.9L354.1 593.7L355.3 591.7L356.5 590.8L357.8 592.2L359.0 591.2L360.2 589.6L361.4 590.5L362.7 591.2L363.9 591.0L365.1 591.3L366.3 588.9L367.6 589.9L368.8 588.4L370.0 588.5L371.2 589.8L372.5 589.7L373.7 588.7L374.9 589.3L376.1 589.3L377.4 590.9L378.6 589.1L379.8 590.6L381.0 591.9L382.3 590.9L383.5 590.5L384.7 589.6L385.9 591.7L387.2 592.9L388.4 590.8L389.6 592.7L390.8 593.6L392.1 594.7L393.3 595.1L394.5 594.0L395.7 595.7L397.0 596.3L398.2 596.8L399.4 595.9L400.6 597.7L401.9 597.4L403.1 598.0L404.3 598.5L405.5 599.5L406.8 599.0L408.0 598.8L409.2 600.0L410.4 600.8L411.7 601.2L412.9 600.7L414.1 601.2L415.3 601.3L416.6 601.4L417.8 602.4L419.0 601.4L420.2 601.8L421.5 602.1L422.7 602.1L423.9 601.9L425.1 602.4L426.4 602.9L427.6 602.1L428.8 602.9L430.0 603.0L431.3 603.4L432.5 602.6L433.7 603.1L434.9 602.8L436.2 602.2L437.4 602.3L438.6 601.7L439.8 601.9L441.1 602.1L442.3 601.9L443.5 601.9L444.7 601.2L446.0 601.4L447.2 601.4L448.4 600.7L449.6 600.9L450.9 601.0L452.1 601.4L453.3 600.3L454.5 600.2L455.8 600.1L457.0 600.2L458.2 600.2L459.4 599.7L460.7 599.3L461.9 599.2L463.1 599.0L464.3 599.0L465.6 598.3L466.8 598.2L468.0 598.4L469.2 597.4L470.5 597.1L471.7 596.8L472.9 597.0L474.1 596.8L475.4 597.0L476.6 595.7L477.8 596.9L479.0 595.7L480.3 595.3L481.5 594.4L482.7 594.5L483.9 594.6L485.2 594.5L486.4 593.9L487.6 593.4L488.8 593.5L490.1 593.6L491.3 593.9L492.5 593.7L493.7 593.1L495.0 594.3L496.2 593.7L497.4 593.0L498.6 593.6L499.9 594.2L501.1 593.7L502.3 594.5L503.5 594.2L504.8 593.5L506.0 593.5L507.2 595.5L508.4 594.4L509.7 593.9L510.9 595.3L512.1 595.1L513.3 594.6L514.6 595.7L515.8 595.3L517.0 595.6L518.2 596.6L519.5 595.5L520.7 595.8L521.9 595.3L523.1 594.7L524.4 595.4L525.6 595.8L526.8 595.4L528.0 595.5L529.3 595.1L530.5 596.3L531.7 596.1L532.9 596.5L534.2 595.3L535.4 595.5L536.6 595.8L537.8 595.8L539.1 595.7L540.3 595.8L541.5 595.5L542.7 595.6L544.0 594.7L545.2 595.2L546.4 595.7L547.6 595.5L548.9 594.7L550.1 595.0L551.3 595.0L552.5 594.8L553.8 594.4L555.0 595.6L556.2 595.4L557.4 595.8L558.7 594.7L559.9 595.1L561.1 595.2L562.3 595.2L563.6 594.5L564.8 594.8L566.0 595.0L567.2 594.1L568.5 595.1L569.7 595.2L570.9 593.4L572.1 594.7L573.4 594.7L574.6 594.8L575.8 594.5L577.0 594.0L578.3 594.0L579.5 594.1L580.7 594.4L581.9 594.9L583.2 594.1L584.4 593.6L585.6 593.8L586.8 594.3L588.1 593.9L589.3 594.4L590.5 594.2" stroke="#0000ff" stroke-width="2.0"/><path d="M171.6 613.1L172.8 612.2L174.0 612.9L175.2 613.5L176.5 612.2L177.7 610.2L178.9 612.0L180.1 612.4L181.4 612.5L182.6 612.2L183.8 610.9L185.0 611.9L186.3 607.5L187.5 610.0L188.7 608.9L189.9 606.1L191.2 605.5L192.4 608.2L193.6 606.7L194.8 605.4L196.1 606.7L197.3 609.5L198.5 603.8L199.7 602.7L201.0 603.1L202.2 605.3L203.4 603.0L204.6 603.2L205.9 601.7L207.1 597.1L208.3 595.6L209.5 596.7L210.8 596.1L212.0 594.9L213.2 595.8L214.4 595.1L215.7 595.8L216.9 593.4L218.1 586.5L219.3 589.3L220.6 591.7L221.8 591.3L223.0 591.6L224.2 587.5L225.5 586.7L226.7 591.0L227.9 584.8L229.1 586.9L230.4 580.4L231.6 583.0L232.8 577.5L234.0 582.7L235.3 581.1L236.5 578.4L237.7 575.2L238.9 575.8L240.2 580.5L241.4 575.5L242.6 575.3L243.8 576.1L245.1 576.2L246.3 568.1L247.5 574.3L248.7 575.2L250.0 570.0L251.2 571.3L252.4 571.9L253.6 569.1L254.9 570.1L256.1 570.5L257.3 568.6L258.5 570.8L259.8 574.0L261.0 573.7L262.2 574.8L263.4 573.2L264.7 577.9L265.9 581.0L267.1 575.7L268.3 580.9L269.6 583.5L270.8 576.9L272.0 580.9L273.2 577.7L274.5 581.4L275.7 583.7L276.9 584.6L278.1 582.9L279.4 582.6L280.6 584.8L281.8 583.7L283.0 588.0L284.3 584.0L285.5 589.9L286.7 585.8L287.9 583.9L289.2 583.4L290.4 582.2L291.6 592.2L292.8 586.1L294.1 585.4L295.3 586.5L296.5 592.4L297.7 589.1L299.0 585.5L300.2 595.1L301.4 590.1L302.6 588.8L303.9 594.0L305.1 591.0L306.3 595.7L307.5 595.4L308.8 595.7L310.0 593.4L311.2 594.4L312.4 592.0L313.7 597.2L314.9 595.4L316.1 592.9L317.3 594.2L318.6 599.2L319.8 594.5L321.0 597.6L322.2 595.7L323.5 596.2L324.7 594.3L325.9 597.2L327.1 602.0L328.4 601.1L329.6 596.5L330.8 599.0L332.0 596.1L333.3 598.3L334.5 600.7L335.7 597.0L336.9 601.2L338.2 604.0L339.4 595.7L340.6 603.9L341.8 599.1L343.1 598.7L344.3 600.4L345.5 604.0L346.7 599.2L348.0 603.9L349.2 603.9L350.4 602.3L351.6 600.6L352.9 601.6L354.1 601.0L355.3 603.3L356.5 603.0L357.8 604.7L359.0 603.6L360.2 602.3L361.4 603.8L362.7 602.8L363.9 604.5L365.1 604.6L366.3 603.8L367.6 604.2L368.8 603.2L370.0 603.8L371.2 601.8L372.5 604.5L373.7 604.5L374.9 605.6L376.1 604.3L377.4 603.5L378.6 605.3L379.8 604.5L381.0 603.6L382.3 604.6L383.5 605.1L384.7 603.3L385.9 604.4L387.2 604.1L388.4 603.2L389.6 603.2L390.8 605.0L392.1 605.2L393.3 604.3L394.5 604.8L395.7 606.8L397.0 603.2L398.2 604.6L399.4 603.8L400.6 606.0L401.9 603.2L403.1 605.4L404.3 604.8L405.5 606.3L406.8 604.9L408.0 605.0L409.2 605.0L410.4 604.3L411.7 604.8L412.9 603.8L414.1 605.5L415.3 606.1L416.6 605.1L417.8 604.5L419.0 603.9L420.2 604.4L421.5 607.3L422.7 605.1L423.9 604.0L425.1 605.5L426.4 606.2L427.6 605.3L428.8 606.2L430.0 605.0L431.3 605.7L432.5 604.2L433.7 605.1L434.9 606.3L436.2 604.8L437.4 604.4L438.6 605.9L439.8 605.6L441.1 607.4L442.3 604.0L443.5 605.4L444.7 606.9L446.0 606.4L447.2 604.7L448.4 603.7L449.6 604.4L450.9 603.8L452.1 605.2L453.3 605.4L454.5 603.0L455.8 603.3L457.0 603.7L458.2 602.3L459.4 604.5L460.7 603.9L461.9 602.4L463.1 601.5L464.3 603.2L465.6 601.5L466.8 603.7L468.0 602.7L469.2 603.2L470.5 604.5L471.7 602.6L472.9 601.9L474.1 602.9L475.4 602.8L476.6 601.2L477.8 603.8L479.0 603.9L480.3 603.0L481.5 603.5L482.7 600.9L483.9 601.9L485.2 603.0L486.4 602.8L487.6 599.4L488.8 602.8L490.1 603.0L491.3 602.0L492.5 601.7L493.7 602.2L495.0 603.3L496.2 603.6L497.4 601.9L498.6 602.6L499.9 604.2L501.1 601.5L502.3 602.0L503.5 603.0L504.8 603.1L506.0 602.7L507.2 603.6L508.4 604.3L509.7 602.8L510.9 604.5L512.1 602.8L513.3 604.6L514.6 603.4L515.8 603.5L517.0 601.7L518.2 604.5L519.5 604.9L520.7 604.2L521.9 604.7L523.1 604.3L524.4 603.4L525.6 603.1L526.8 602.3L528.0 604.7L529.3 601.5L530.5 602.2L531.7 604.3L532.9 606.3L534.2 604.2L535.4 604.1L536.6 606.4L537.8 604.1L539.1 604.4L540.3 604.9L541.5 603.6L542.7 603.3L544.0 604.6L545.2 604.0L546.4 604.8L547.6 604.9L548.9 604.1L550.1 603.7L551.3 604.7L552.5 606.2L553.8 603.6L555.0 605.6L556.2 604.0L557.4 602.5L558.7 604.1L559.9 605.2L561.1 605.4L562.3 603.0L563.6 604.1L564.8 603.6L566.0 603.2L567.2 604.1L568.5 604.3L569.7 604.9L570.9 606.8L572.1 605.4L573.4 604.1L574.6 604.2L575.8 603.6L577.0 604.1L578.3 603.8L579.5 603.3L580.7 604.8L581.9 604.2L583.2 605.4L584.4 603.1L585.6 603.9L586.8 603.5L588.1 602.6L589.3 603.0L590.5 604.0" stroke="#00ff00" stroke-width="2.0"/><path d="M170.5 613.5L170.7 613.5L170.8 613.5L171.0 613.5L171.2 613.5L171.4 613.5L171.5 613.5L171.7 613.5L171.9 613.5L172.1 613.5L172.2 613.5L172.4 613.5L172.6 613.5L172.8 613.5L172.9 613.5L173.1 613.5L173.3 613.5L173.5 613.5L173.6 613.5L173.8 613.5L174.0 613.5L174.2 613.5L174.3 613.5L174.5 613.5L174.7 613.5L174.9 613.5L175.0 613.5L175.2 613.5L175.4 613.5L175.6 613.5L175.7 613.5L175.9 613.5L176.1 613.5L176.3 613.5L176.4 613.5L176.6 613.5L176.8 613.5L177.0 613.5L177.1 613.5L177.3 613.5L177.5 613.5L177.7 613.5L177.8 613.5L178.0 613.5L178.2 613.5L178.4 613.5L178.5 613.5L178.7 613.5L178.9 613.5L179.1 613.5L179.2 613.5L179.4 613.5L179.6 613.5L179.8 613.5L179.9 613.5L180.1 613.5L180.3 613.5L180.5 613.5L180.6 613.5L180.8 613.5L181.0 613.5L181.2 613.5L181.3 613.5L181.5 613.5L181.7 613.5L181.9 613.5L182.0 613.5L182.2 613.5L182.4 613.5L182.6 613.5L182.7 613.5L182.9 613.5L183.1 613.5L183.3 613.5L183.4 613.5L183.6 613.5L183.8 613.5L184.0 613.5L184.1 613.5L184.3 613.5L184.5 613.5L184.7 613.5L184.8 613.5L185.0 613.5L185.2 613.5L185.4 613.5L185.5 613.5L185.7 613.5L185.9 613.5L186.1 613.5L186.2 613.5L186.4 613.5L186.6 613.5L186.8 613.5L186.9 613.5L187.1 613.5L187.3 613.5L187.5 613.5L187.6 613.5L187.8 613.5L188.0 613.5L188.2 613.5L188.3 613.5L188.5 613.5L188.7 613.5L188.9 613.5L189.0 613.5L189.2 613.5L189.4 613.5L189.6 613.5L189.7 613.5L189.9 613.5L190.1 613.5L190.3 613.5L190.4 613.5L190.6 613.5L190.8 613.5L191.0 613.5L191.1 613.5L191.3 613.5L191.5 613.5L191.7 613.5L191.8 613.5L192.0 613.5L192.2 613.5L192.4 613.5L192.5 613.5L192.7 613.5L192.9 613.5L193.1 613.5L193.2 613.5L193.4 613.5L193.6 613.5L193.8 613.5L193.9 613.5L194.1 613.5L194.3 613.5L194.5 613.5L194.6 613.5L194.8 613.5L195.0 613.5L195.2 613.5L195.3 613.5L195.5 613.5L195.7 613.5L195.9 613.5L196.0 613.5L196.2 613.5L196.4 613.5L196.6 613.5L196.7 613.5L196.9 613.5L197.1 613.5L197.3 613.5L197.4 613.5L197.6 613.5L197.8 613.5L198.0 613.5L198.1 613.5L198.3 613.5L198.5 613.5L198.7 613.5L198.8 613.5L199.0 613.5L199.2 613.5L199.4 613.5L199.5 613.5L199.7 613.4L199.9 613.4L200.1 613.4L200.2 613.4L200.4 613.4L200.6 613.4L200.8 613.4L200.9 613.4L201.1 613.4L201.3 613.4L201.5 613.4L201.6 613.4L201.8 613.4L202.0 613.4L202.2 613.4L202.3 613.4L202.5 613.4L202.7 613.4L202.9 613.4L203.0 613.4L203.2 613.4L203.4 613.4L203.6 613.4L203.7 613.4L203.9 613.4L204.1 613.4L204.3 613.4L204.4 613.4L204.6 613.4L204.8 613.4L205.0 613.4L205.1 613.4L205.3 613.4L205.5 613.4L205.7 613.4L205.8 613.4L206.0 613.4L206.2 613.4L206.4 613.4L206.5 613.4L206.7 613.4L206.9 613.4L207.1 613.4L207.2 613.4L207.4 613.4L207.6 613.4L207.8 613.4L207.9 613.4L208.1 613.4L208.3 613.4L208.5 613.4L208.6 613.4L208.8 613.4L209.0 613.4L209.2 613.4L209.3 613.4L209.5 613.4L209.7 613.4L209.9 613.4L210.0 613.4L210.2 613.4L210.4 613.4L210.6 613.4L210.7 613.4L210.9 613.4L211.1 613.4L211.3 613.4L211.4 613.4L211.6 613.4L211.8 613.4L212.0 613.4L212.1 613.4L212.3 613.4L212.5 613.4L212.7 613.4L212.8 613.4L213.0 613.4L213.2 613.4L213.4 613.4L213.5 613.4L213.7 613.4L213.9 613.4L214.1 613.4L214.2 613.3L214.4 613.3L214.6 613.3L214.8 613.3L214.9 613.3L215.1 613.3L215.3 613.3L215.5 613.3L215.6 613.3L215.8 613.3L216.0 613.3L216.2 613.3L216.3 613.3L216.5 613.3L216.7 613.3L216.9 613.3L217.0 613.3L217.2 613.3L217.4 613.3L217.6 613.3L217.7 613.3L217.9 613.3L218.1 613.3L218.3 613.3L218.4 613.3L218.6 613.3L218.8 613.3L219.0 613.3L219.1 613.3L219.3 613.3L219.5 613.3L219.7 613.3L219.8 613.3L220.0 613.3L220.2 613.3L220.4 613.3L220.5 613.3L220.7 613.3L220.9 613.3L221.1 613.3L221.2 613.3L221.4 613.3L221.6 613.3L221.8 613.3L221.9 613.3L222.1 613.3L222.3 613.3L222.5 613.3L222.6 613.3L222.8 613.3L223.0 613.2L223.2 613.2L223.3 613.2L223.5 613.2L223.7 613.2L223.9 613.2L224.0 613.2L224.2 613.2L224.4 613.2L224.6 613.2L224.7 613.2L224.9 613.2L225.1 613.2L225.3 613.2L225.4 613.2L225.6 613.2L225.8 613.2L226.0 613.2L226.1 613.2L226.3 613.2L226.5 613.2L226.7 613.2L226.8 613.2L227.0 613.1L227.2 613.0L227.4 612.9L227.5 612.8L227.7 612.7L227.9 612.6L228.1 612.4L228.2 612.3L228.4 612.1L228.6 611.9L228.8 611.7L228.9 611.5L229.1 611.3L229.3 611.1L229.5 610.8L229.6 610.6L229.8 610.4L230.0 610.1L230.2 609.8L230.3 609.6L230.5 609.3L230.7 609.0L230.9 608.7L231.0 608.4L231.2 608.0L231.4 607.6L231.6 607.1L231.7 606.6L231.9 606.1L232.1 605.5L232.3 604.9L232.4 604.3L232.6 603.7L232.8 603.0L233.0 602.3L233.1 601.6L233.3 600.8L233.5 600.1L233.7 599.3L233.8 598.5L234.0 597.6L234.2 596.6L234.4 595.6L234.5 594.4L234.7 593.2L234.9 591.9L235.1 590.6L235.2 589.2L235.4 587.7L235.6 586.1L235.8 584.4L235.9 582.7L236.1 580.7L236.3 578.5L236.5 576.1L236.6 573.6L236.8 570.9L237.0 568.2L237.2 565.3L237.3 562.3L237.5 559.2L237.7 555.9L237.9 552.4L238.0 548.6L238.2 544.5L238.4 540.1L238.6 535.2L238.7 529.9L238.9 524.3L239.1 518.7L239.3 513.0L239.4 506.9L239.6 499.9L239.8 491.5L240.0 481.7L240.1 469.4L240.3 453.4L240.5 435.6L240.7 417.9L240.8 402.2L241.0 390.4L241.2 384.5L241.4 371.6L241.5 353.5L241.7 353.5L241.9 353.5L242.1 353.5L242.2 353.5L242.4 353.5L242.6 353.5L242.8 353.5L242.9 353.5L243.1 353.5L243.3 353.5L243.5 353.5L243.6 353.5L243.8 353.5L244.0 353.5L244.2 353.5L244.3 353.5L244.5 353.5L244.7 353.5L244.9 353.5L245.0 353.5L245.2 353.5L245.4 353.5L245.6 353.5L245.7 353.5L245.9 353.5L246.1 353.5L246.3 353.5L246.4 353.5L246.6 353.5L246.8 353.5L247.0 353.5L247.1 353.5L247.3 353.5L247.5 353.5L247.7 353.5L247.8 353.5L248.0 353.5L248.2 353.5L248.4 353.5L248.5 353.5L248.7 353.5L248.9 353.5L249.1 353.5L249.2 353.5L249.4 353.5L249.6 353.5L249.8 353.5L249.9 353.5L250.1 353.5L250.3 353.5L250.5 353.5L250.6 353.5L250.8 353.5L251.0 353.5L251.2 353.5L251.3 353.5L251.5 353.5L251.7 353.5L251.9 353.5L252.0 353.5L252.2 353.5L252.4 353.5L252.6 353.5L252.7 353.5L252.9 353.5L253.1 353.5L253.3 353.5L253.4 353.5L253.6 353.5L253.8 353.5L254.0 353.5L254.1 353.5L254.3 353.5L254.5 353.5L254.7 353.5L254.8 353.5L255.0 353.5L255.2 353.5L255.4 353.5L255.5 353.5L255.7 353.5L255.9 353.5L256.1 353.5L256.2 353.5L256.4 353.5L256.6 353.5L256.8 353.5L256.9 353.5L257.1 353.5L257.3 353.5L257.5 353.5L257.6 353.5L257.8 353.5L258.0 353.5L258.2 353.5L258.3 353.5L258.5 353.5L258.7 353.5L258.9 353.5L259.0 353.5L259.2 353.5L259.4 353.5L259.6 353.5L259.7 353.5L259.9 353.5L260.1 353.5L260.3 353.5L260.4 353.5L260.6 353.5L260.8 353.5L261.0 353.5L261.1 353.5L261.3 353.5L261.5 361.0L261.7 377.4L261.8 386.0L262.0 396.5L262.2 413.5L262.4 433.7L262.5 453.7L262.7 470.3L262.9 480.2L263.1 484.9L263.2 488.7L263.4 491.7L263.6 494.4L263.8 497.0L263.9 500.0L264.1 503.5L264.3 507.1L264.5 510.8L264.6 514.5L264.8 518.2L265.0 521.9L265.2 525.6L265.3 529.5L265.5 533.3L265.7 537.0L265.9 540.5L266.0 543.5L266.2 546.5L266.4 549.4L266.6 552.2L266.7 554.9L266.9 557.3L267.1 559.6L267.3 561.5L267.4 563.1L267.6 564.4L267.8 565.6L268.0 566.7L268.1 567.7L268.3 568.6L268.5 569.5L268.7 570.3L268.8 571.0L269.0 571.7L269.2 572.4L269.4 573.1L269.5 573.8L269.7 574.4L269.9 575.1L270.1 575.8L270.2 576.5L270.4 577.1L270.6 577.8L270.8 578.4L270.9 579.0L271.1 579.6L271.3 580.1L271.5 580.6L271.6 581.0L271.8 581.4L272.0 581.8L272.2 582.0L272.3 582.3L272.5 582.5L272.7 582.6L272.9 582.8L273.0 583.0L273.2 583.2L273.4 583.3L273.6 583.4L273.7 583.6L273.9 583.7L274.1 583.8L274.3 583.8L274.4 583.9L274.6 583.9L274.8 584.0L275.0 583.9L275.1 583.9L275.3 583.9L275.5 583.8L275.7 583.7L275.8 583.6L276.0 583.5L276.2 583.4L276.4 583.2L276.5 583.1L276.7 582.9L276.9 582.8L277.1 582.6L277.2 582.4L277.4 582.3L277.6 582.1L277.8 581.9L277.9 581.7L278.1 581.5L278.3 581.2L278.5 580.9L278.6 580.6L278.8 580.3L279.0 580.0L279.2 579.7L279.3 579.3L279.5 579.0L279.7 578.6L279.9 578.2L280.0 577.8L280.2 577.4L280.4 577.0L280.6 576.6L280.7 576.2L280.9 575.8L281.1 575.4L281.3 574.9L281.4 574.5L281.6 574.1L281.8 573.7L282.0 573.3L282.1 572.9L282.3 572.4L282.5 572.0L282.7 571.6L282.8 571.1L283.0 570.6L283.2 570.2L283.4 569.7L283.5 569.2L283.7 568.7L283.9 568.2L284.1 567.7L284.2 567.2L284.4 566.7L284.6 566.2L284.8 565.6L284.9 565.1L285.1 564.6L285.3 564.1L285.5 563.5L285.6 563.0L285.8 562.5L286.0 561.9L286.2 561.4L286.3 560.9L286.5 560.3L286.7 559.8L286.9 559.3L287.0 558.7L287.2 558.2L287.4 557.6L287.6 557.1L287.7 556.5L287.9 555.9L288.1 555.4L288.3 554.8L288.4 554.2L288.6 553.6L288.8 553.0L289.0 552.5L289.1 551.9L289.3 551.3L289.5 550.8L289.7 550.2L289.8 549.7L290.0 549.1L290.2 548.6L290.4 548.0L290.5 547.5L290.7 546.9L290.9 546.3L291.1 545.7L291.2 545.2L291.4 544.6L291.6 544.0L291.8 543.5L291.9 542.9L292.1 542.3L292.3 541.8L292.5 541.3L292.6 540.8L292.8 540.3L293.0 539.8L293.2 539.4L293.3 539.0L293.5 538.6L293.7 538.2L293.9 537.9L294.0 537.6L294.2 537.3L294.4 537.0L294.6 536.8L294.7 536.5L294.9 536.2L295.1 535.9L295.3 535.7L295.4 535.4L295.6 535.2L295.8 535.0L296.0 534.8L296.1 534.6L296.3 534.5L296.5 534.3L296.7 534.3L296.8 534.2L297.0 534.2L297.2 534.2L297.4 534.3L297.5 534.4L297.7 534.6L297.9 534.8L298.1 535.0L298.2 535.2L298.4 535.5L298.6 535.8L298.8 536.1L298.9 536.5L299.1 536.8L299.3 537.2L299.5 537.6L299.6 537.9L299.8 538.3L300.0 538.7L300.2 539.1L300.3 539.6L300.5 540.1L300.7 540.7L300.9 541.3L301.0 542.0L301.2 542.7L301.4 543.4L301.6 544.2L301.7 544.9L301.9 545.7L302.1 546.5L302.3 547.2L302.4 548.0L302.6 548.7L302.8 549.5L303.0 550.3L303.1 551.1L303.3 552.0L303.5 552.8L303.7 553.7L303.8 554.6L304.0 555.5L304.2 556.4L304.4 557.3L304.5 558.2L304.7 559.1L304.9 560.1L305.1 561.0L305.2 561.9L305.4 562.9L305.6 563.8L305.8 564.7L305.9 565.7L306.1 566.6L306.3 567.5L306.5 568.3L306.6 569.2L306.8 570.1L307.0 570.9L307.2 571.7L307.3 572.5L307.5 573.3L307.7 574.1L307.9 574.8L308.0 575.6L308.2 576.3L308.4 577.0L308.6 577.7L308.7 578.4L308.9 579.1L309.1 579.8L309.3 580.4L309.4 581.1L309.6 581.8L309.8 582.4L310.0 583.1L310.1 583.8L310.3 584.4L310.5 585.1L310.7 585.7L310.8 586.4L311.0 587.0L311.2 587.7L311.4 588.3L311.5 588.9L311.7 589.6L311.9 590.2L312.1 590.8L312.2 591.4L312.4 592.0L312.6 592.5L312.8 593.1L312.9 593.7L313.1 594.2L313.3 594.8L313.5 595.4L313.6 595.9L313.8 596.5L314.0 597.0L314.2 597.5L314.3 598.0L314.5 598.5L314.7 598.9L314.9 599.4L315.0 599.8L315.2 600.2L315.4 600.6L315.6 601.0L315.7 601.4L315.9 601.7L316.1 602.1L316.3 602.4L316.4 602.8L316.6 603.1L316.8 603.4L317.0 603.8L317.1 604.1L317.3 604.4L317.5 604.7L317.7 605.0L317.8 605.3L318.0 605.7L318.2 606.0L318.4 606.3L318.5 606.6L318.7 607.0L318.9 607.3L319.1 607.6L319.2 607.8L319.4 608.1L319.6 608.3L319.8 608.5L319.9 608.7L320.1 608.8L320.3 608.9L320.5 609.1L320.6 609.2L320.8 609.3L321.0 609.5L321.2 609.6L321.3 609.7L321.5 609.8L321.7 609.9L321.9 610.1L322.0 610.2L322.2 610.3L322.4 610.4L322.6 610.5L322.7 610.6L322.9 610.7L323.1 610.8L323.3 610.9L323.4 611.0L323.6 611.0L323.8 611.1L324.0 611.2L324.1 611.3L324.3 611.4L324.5 611.4L324.7 611.5L324.8 611.6L325.0 611.6L325.2 611.7L325.4 611.8L325.5 611.8L325.7 611.9L325.9 611.9L326.1 612.0L326.2 612.0L326.4 612.0L326.6 612.1L326.8 612.1L326.9 612.1L327.1 612.2L327.3 612.2L327.5 612.2L327.6 612.2L327.8 612.2L328.0 612.2L328.2 612.3L328.3 612.3L328.5 612.3L328.7 612.3L328.9 612.3L329.0 612.3L329.2 612.4L329.4 612.4L329.6 612.4L329.7 612.4L329.9 612.4L330.1 612.4L330.3 612.4L330.4 612.4L330.6 612.5L330.8 612.5L331.0 612.5L331.1 612.5L331.3 612.5L331.5 612.5L331.7 612.5L331.8 612.5L332.0 612.6L332.2 612.6L332.4 612.6L332.5 612.6L332.7 612.6L332.9 612.6L333.1 612.6L333.2 612.6L333.4 612.6L333.6 612.6L333.8 612.6L333.9 612.7L334.1 612.7L334.3 612.7L334.5 612.7L334.6 612.7L334.8 612.7L335.0 612.7L335.2 612.7L335.3 612.7L335.5 612.7L335.7 612.7L335.9 612.7L336.0 612.7L336.2 612.7L336.4 612.7L336.6 612.8L336.7 612.8L336.9 612.8L337.1 612.8L337.3 612.8L337.4 612.8L337.6 612.8L337.8 612.8L338.0 612.8L338.1 612.8L338.3 612.8L338.5 612.8L338.7 612.8L338.8 612.8L339.0 612.8L339.2 612.8L339.4 612.8L339.5 612.8L339.7 612.8L339.9 612.8L340.1 612.8L340.2 612.8L340.4 612.8L340.6 612.8L340.8 612.8L340.9 612.8L341.1 612.8L341.3 612.8L341.5 612.8L341.6 612.8L341.8 612.8L342.0 612.8L342.2 612.8L342.3 612.8L342.5 612.8L342.7 612.8L342.9 612.8L343.0 612.8L343.2 612.8L343.4 612.8L343.6 612.8L343.7 612.7L343.9 612.7L344.1 612.7L344.3 612.7L344.4 612.7L344.6 612.7L344.8 612.7L345.0 612.7L345.1 612.7L345.3 612.7L345.5 612.7L345.7 612.7L345.8 612.7L346.0 612.7L346.2 612.7L346.4 612.7L346.5 612.7L346.7 612.6L346.9 612.6L347.1 612.6L347.2 612.6L347.4 612.6L347.6 612.6L347.8 612.6L347.9 612.6L348.1 612.6L348.3 612.6L348.5 612.6L348.6 612.6L348.8 612.6L349.0 612.5L349.2 612.5L349.3 612.5L349.5 612.5L349.7 612.5L349.9 612.5L350.0 612.5L350.2 612.5L350.4 612.5L350.6 612.5L350.7 612.5L350.9 612.4L351.1 612.4L351.3 612.4L351.4 612.4L351.6 612.4L351.8 612.4L352.0 612.4L352.1 612.3L352.3 612.3L352.5 612.3L352.7 612.3L352.8 612.3L353.0 612.3L353.2 612.2L353.4 612.2L353.5 612.2L353.7 612.2L353.9 612.2L354.1 612.1L354.2 612.1L354.4 612.1L354.6 612.1L354.8 612.0L354.9 612.0L355.1 612.0L355.3 612.0L355.5 611.9L355.6 611.9L355.8 611.9L356.0 611.9L356.2 611.8L356.3 611.8L356.5 611.8L356.7 611.8L356.9 611.7L357.0 611.7L357.2 611.7L357.4 611.6L357.6 611.6L357.7 611.6L357.9 611.6L358.1 611.5L358.3 611.5L358.4 611.5L358.6 611.4L358.8 611.4L359.0 611.4L359.1 611.3L359.3 611.3L359.5 611.3L359.7 611.3L359.8 611.2L360.0 611.2L360.2 611.2L360.4 611.1L360.5 611.1L360.7 611.1L360.9 611.0L361.1 611.0L361.2 611.0L361.4 610.9L361.6 610.9L361.8 610.9L361.9 610.8L362.1 610.8L362.3 610.8L362.5 610.7L362.6 610.7L362.8 610.6L363.0 610.6L363.2 610.6L363.3 610.5L363.5 610.5L363.7 610.4L363.9 610.4L364.0 610.4L364.2 610.3L364.4 610.3L364.6 610.2L364.7 610.2L364.9 610.2L365.1 610.1L365.3 610.1L365.4 610.0L365.6 610.0L365.8 609.9L366.0 609.9L366.1 609.8L366.3 609.8L366.5 609.7L366.7 609.7L366.8 609.6L367.0 609.6L367.2 609.5L367.4 609.5L367.5 609.4L367.7 609.4L367.9 609.3L368.1 609.3L368.2 609.2L368.4 609.2L368.6 609.1L368.8 609.0L368.9 609.0L369.1 608.9L369.3 608.9L369.5 608.8L369.6 608.8L369.8 608.7L370.0 608.6L370.2 608.6L370.3 608.5L370.5 608.4L370.7 608.4L370.9 608.3L371.0 608.3L371.2 608.2L371.4 608.1L371.6 608.1L371.7 608.0L371.9 607.9L372.1 607.9L372.3 607.8L372.4 607.7L372.6 607.6L372.8 607.6L373.0 607.5L373.1 607.4L373.3 607.3L373.5 607.3L373.7 607.2L373.8 607.1L374.0 607.0L374.2 606.9L374.4 606.8L374.5 606.7L374.7 606.6L374.9 606.5L375.1 606.4L375.2 606.3L375.4 606.2L375.6 606.1L375.8 606.0L375.9 605.9L376.1 605.8L376.3 605.7L376.5 605.6L376.6 605.5L376.8 605.4L377.0 605.3L377.2 605.1L377.3 605.0L377.5 604.9L377.7 604.8L377.9 604.7L378.0 604.5L378.2 604.4L378.4 604.3L378.6 604.2L378.7 604.0L378.9 603.9L379.1 603.8L379.3 603.6L379.4 603.5L379.6 603.4L379.8 603.2L380.0 603.1L380.1 603.0L380.3 602.8L380.5 602.7L380.7 602.5L380.8 602.4L381.0 602.3L381.2 602.1L381.4 602.0L381.5 601.8L381.7 601.7L381.9 601.6L382.1 601.4L382.2 601.3L382.4 601.1L382.6 601.0L382.8 600.8L382.9 600.7L383.1 600.5L383.3 600.4L383.5 600.2L383.6 600.1L383.8 599.9L384.0 599.8L384.2 599.6L384.3 599.5L384.5 599.4L384.7 599.2L384.9 599.1L385.0 598.9L385.2 598.8L385.4 598.6L385.6 598.4L385.7 598.3L385.9 598.1L386.1 598.0L386.3 597.8L386.4 597.6L386.6 597.5L386.8 597.3L387.0 597.1L387.1 597.0L387.3 596.8L387.5 596.6L387.7 596.4L387.8 596.2L388.0 596.1L388.2 595.9L388.4 595.7L388.5 595.5L388.7 595.3L388.9 595.1L389.1 594.9L389.2 594.8L389.4 594.6L389.6 594.4L389.8 594.2L389.9 594.0L390.1 593.8L390.3 593.6L390.5 593.4L390.6 593.2L390.8 593.0L391.0 592.8L391.2 592.6L391.3 592.5L391.5 592.3L391.7 592.1L391.9 591.9L392.0 591.7L392.2 591.5L392.4 591.3L392.6 591.1L392.7 590.9L392.9 590.7L393.1 590.5L393.3 590.3L393.4 590.1L393.6 589.9L393.8 589.7L394.0 589.5L394.1 589.3L394.3 589.1L394.5 588.9L394.7 588.7L394.8 588.5L395.0 588.3L395.2 588.1L395.4 587.9L395.5 587.7L395.7 587.5L395.9 587.3L396.1 587.1L396.2 586.9L396.4 586.7L396.6 586.4L396.8 586.2L396.9 586.0L397.1 585.8L397.3 585.6L397.5 585.4L397.6 585.2L397.8 585.0L398.0 584.8L398.2 584.6L398.3 584.4L398.5 584.2L398.7 584.0L398.9 583.9L399.0 583.7L399.2 583.5L399.4 583.3L399.6 583.1L399.7 582.9L399.9 582.8L400.1 582.6L400.3 582.4L400.4 582.3L400.6 582.1L400.8 581.9L401.0 581.7L401.1 581.6L401.3 581.4L401.5 581.2L401.7 581.1L401.8 580.9L402.0 580.7L402.2 580.6L402.4 580.4L402.5 580.2L402.7 580.1L402.9 579.9L403.1 579.7L403.2 579.6L403.4 579.4L403.6 579.3L403.8 579.1L403.9 579.0L404.1 578.8L404.3 578.6L404.5 578.5L404.6 578.3L404.8 578.2L405.0 578.1L405.2 577.9L405.3 577.8L405.5 577.6L405.7 577.5L405.9 577.4L406.0 577.2L406.2 577.1L406.4 577.0L406.6 576.8L406.7 576.7L406.9 576.6L407.1 576.5L407.3 576.3L407.4 576.2L407.6 576.1L407.8 576.0L408.0 575.9L408.1 575.8L408.3 575.7L408.5 575.6L408.7 575.5L408.8 575.4L409.0 575.3L409.2 575.2L409.4 575.1L409.5 575.0L409.7 574.9L409.9 574.8L410.1 574.7L410.2 574.6L410.4 574.6L410.6 574.5L410.8 574.4L410.9 574.3L411.1 574.2L411.3 574.1L411.5 574.1L411.6 574.0L411.8 573.9L412.0 573.8L412.2 573.7L412.3 573.6L412.5 573.6L412.7 573.5L412.9 573.4L413.0 573.3L413.2 573.3L413.4 573.2L413.6 573.1L413.7 573.0L413.9 572.9L414.1 572.9L414.3 572.8L414.4 572.7L414.6 572.6L414.8 572.5L415.0 572.5L415.1 572.4L415.3 572.3L415.5 572.2L415.7 572.1L415.8 572.0L416.0 572.0L416.2 571.9L416.4 571.8L416.5 571.7L416.7 571.6L416.9 571.5L417.1 571.4L417.2 571.3L417.4 571.2L417.6 571.1L417.8 571.0L417.9 571.0L418.1 570.9L418.3 570.8L418.5 570.7L418.6 570.6L418.8 570.5L419.0 570.4L419.2 570.3L419.3 570.2L419.5 570.1L419.7 570.0L419.9 569.9L420.0 569.7L420.2 569.6L420.4 569.5L420.6 569.4L420.7 569.3L420.9 569.2L421.1 569.1L421.3 569.0L421.4 568.9L421.6 568.8L421.8 568.7L422.0 568.6L422.1 568.5L422.3 568.4L422.5 568.3L422.7 568.2L422.8 568.1L423.0 567.9L423.2 567.8L423.4 567.7L423.5 567.6L423.7 567.5L423.9 567.4L424.1 567.3L424.2 567.2L424.4 567.1L424.6 567.0L424.8 566.9L424.9 566.8L425.1 566.6L425.3 566.5L425.5 566.4L425.6 566.3L425.8 566.2L426.0 566.1L426.2 566.0L426.3 565.9L426.5 565.8L426.7 565.7L426.9 565.6L427.0 565.5L427.2 565.4L427.4 565.3L427.6 565.2L427.7 565.0L427.9 564.9L428.1 564.8L428.3 564.7L428.4 564.6L428.6 564.5L428.8 564.4L429.0 564.3L429.1 564.2L429.3 564.1L429.5 564.0L429.7 563.9L429.8 563.8L430.0 563.7L430.2 563.6L430.4 563.5L430.5 563.3L430.7 563.2L430.9 563.1L431.1 563.0L431.2 562.9L431.4 562.8L431.6 562.7L431.8 562.6L431.9 562.5L432.1 562.4L432.3 562.3L432.5 562.2L432.6 562.1L432.8 561.9L433.0 561.8L433.2 561.7L433.3 561.6L433.5 561.5L433.7 561.4L433.9 561.3L434.0 561.2L434.2 561.1L434.4 561.0L434.6 560.9L434.7 560.8L434.9 560.7L435.1 560.6L435.3 560.5L435.4 560.4L435.6 560.2L435.8 560.1L436.0 560.0L436.1 559.9L436.3 559.8L436.5 559.7L436.7 559.6L436.8 559.5L437.0 559.4L437.2 559.3L437.4 559.2L437.5 559.1L437.7 559.0L437.9 558.9L438.1 558.8L438.2 558.7L438.4 558.6L438.6 558.5L438.8 558.4L438.9 558.3L439.1 558.2L439.3 558.1L439.5 558.0L439.6 557.9L439.8 557.8L440.0 557.7L440.2 557.6L440.3 557.5L440.5 557.4L440.7 557.3L440.9 557.2L441.0 557.1L441.2 557.0L441.4 556.9L441.6 556.9L441.7 556.8L441.9 556.7L442.1 556.6L442.3 556.5L442.4 556.4L442.6 556.3L442.8 556.2L443.0 556.1L443.1 556.0L443.3 556.0L443.5 555.9L443.7 555.8L443.8 555.7L444.0 555.6L444.2 555.5L444.4 555.4L444.5 555.4L444.7 555.3L444.9 555.2L445.1 555.1L445.2 555.0L445.4 554.9L445.6 554.8L445.8 554.8L445.9 554.7L446.1 554.6L446.3 554.5L446.5 554.4L446.6 554.3L446.8 554.3L447.0 554.2L447.2 554.1L447.3 554.0L447.5 553.9L447.7 553.8L447.9 553.7L448.0 553.6L448.2 553.6L448.4 553.5L448.6 553.4L448.7 553.3L448.9 553.2L449.1 553.1L449.3 553.0L449.4 552.9L449.6 552.8L449.8 552.7L450.0 552.6L450.1 552.5L450.3 552.5L450.5 552.4L450.7 552.3L450.8 552.2L451.0 552.1L451.2 552.0L451.4 551.9L451.5 551.8L451.7 551.7L451.9 551.6L452.1 551.5L452.2 551.4L452.4 551.2L452.6 551.1L452.8 551.0L452.9 550.9L453.1 550.8L453.3 550.7L453.5 550.6L453.6 550.5L453.8 550.4L454.0 550.2L454.2 550.1L454.3 550.0L454.5 549.9L454.7 549.8L454.9 549.7L455.0 549.5L455.2 549.4L455.4 549.3L455.6 549.2L455.7 549.0L455.9 548.9L456.1 548.8L456.3 548.7L456.4 548.5L456.6 548.4L456.8 548.3L457.0 548.1L457.1 548.0L457.3 547.8L457.5 547.7L457.7 547.6L457.8 547.4L458.0 547.3L458.2 547.1L458.4 546.9L458.5 546.8L458.7 546.6L458.9 546.4L459.1 546.3L459.2 546.1L459.4 545.9L459.6 545.7L459.8 545.6L459.9 545.4L460.1 545.2L460.3 545.0L460.5 544.8L460.6 544.7L460.8 544.5L461.0 544.3L461.2 544.1L461.3 543.9L461.5 543.7L461.7 543.6L461.9 543.4L462.0 543.2L462.2 543.0L462.4 542.9L462.6 542.7L462.7 542.6L462.9 542.4L463.1 542.2L463.3 542.1L463.4 541.9L463.6 541.8L463.8 541.7L464.0 541.5L464.1 541.4L464.3 541.3L464.5 541.1L464.7 541.0L464.8 540.9L465.0 540.7L465.2 540.6L465.4 540.5L465.5 540.3L465.7 540.2L465.9 540.1L466.1 540.0L466.2 539.9L466.4 539.8L466.6 539.7L466.8 539.6L466.9 539.5L467.1 539.4L467.3 539.3L467.5 539.2L467.6 539.1L467.8 539.1L468.0 539.0L468.2 538.9L468.3 538.8L468.5 538.7L468.7 538.7L468.9 538.6L469.0 538.5L469.2 538.5L469.4 538.4L469.6 538.3L469.7 538.3L469.9 538.3L470.1 538.2L470.3 538.2L470.4 538.2L470.6 538.2L470.8 538.2L471.0 538.2L471.1 538.3L471.3 538.3L471.5 538.4L471.7 538.4L471.8 538.5L472.0 538.6L472.2 538.7L472.4 538.8L472.5 538.9L472.7 539.0L472.9 539.1L473.1 539.2L473.2 539.3L473.4 539.4L473.6 539.5L473.8 539.6L473.9 539.7L474.1 539.8L474.3 539.9L474.5 540.0L474.6 540.1L474.8 540.2L475.0 540.4L475.2 540.5L475.3 540.7L475.5 540.8L475.7 541.0L475.9 541.1L476.0 541.3L476.2 541.4L476.4 541.6L476.6 541.8L476.7 541.9L476.9 542.1L477.1 542.3L477.3 542.5L477.4 542.6L477.6 542.8L477.8 543.0L478.0 543.2L478.1 543.4L478.3 543.6L478.5 543.8L478.7 544.0L478.8 544.3L479.0 544.5L479.2 544.7L479.4 545.0L479.5 545.2L479.7 545.4L479.9 545.7L480.1 545.9L480.2 546.2L480.4 546.4L480.6 546.7L480.8 547.0L480.9 547.2L481.1 547.5L481.3 547.7L481.5 548.0L481.6 548.3L481.8 548.5L482.0 548.8L482.2 549.0L482.3 549.3L482.5 549.5L482.7 549.8L482.9 550.0L483.0 550.3L483.2 550.5L483.4 550.8L483.6 551.0L483.7 551.2L483.9 551.4L484.1 551.7L484.3 551.9L484.4 552.1L484.6 552.3L484.8 552.5L485.0 552.7L485.1 552.9L485.3 553.0L485.5 553.2L485.7 553.4L485.8 553.6L486.0 553.8L486.2 554.0L486.4 554.2L486.5 554.4L486.7 554.6L486.9 554.8L487.1 554.9L487.2 555.1L487.4 555.3L487.6 555.5L487.8 555.6L487.9 555.8L488.1 555.9L488.3 556.1L488.5 556.2L488.6 556.4L488.8 556.5L489.0 556.6L489.2 556.8L489.3 556.9L489.5 557.0L489.7 557.1L489.9 557.1L490.0 557.2L490.2 557.3L490.4 557.4L490.6 557.4L490.7 557.5L490.9 557.6L491.1 557.6L491.3 557.7L491.4 557.8L491.6 557.8L491.8 557.9L492.0 557.9L492.1 558.0L492.3 558.0L492.5 558.1L492.7 558.1L492.8 558.1L493.0 558.1L493.2 558.2L493.4 558.2L493.5 558.2L493.7 558.2L493.9 558.2L494.1 558.2L494.2 558.2L494.4 558.1L494.6 558.1L494.8 558.1L494.9 558.0L495.1 558.0L495.3 557.9L495.5 557.9L495.6 557.8L495.8 557.7L496.0 557.7L496.2 557.6L496.3 557.5L496.5 557.4L496.7 557.3L496.9 557.3L497.0 557.2L497.2 557.1L497.4 557.0L497.6 556.9L497.7 556.8L497.9 556.7L498.1 556.7L498.3 556.6L498.4 556.5L498.6 556.4L498.8 556.2L499.0 556.1L499.1 556.0L499.3 555.9L499.5 555.7L499.7 555.6L499.8 555.5L500.0 555.3L500.2 555.2L500.4 555.0L500.5 554.9L500.7 554.7L500.9 554.6L501.1 554.4L501.2 554.3L501.4 554.1L501.6 554.0L501.8 553.8L501.9 553.7L502.1 553.5L502.3 553.4L502.5 553.2L502.6 553.1L502.8 552.9L503.0 552.8L503.2 552.6L503.3 552.5L503.5 552.3L503.7 552.2L503.9 552.0L504.0 551.9L504.2 551.7L504.4 551.5L504.6 551.4L504.7 551.2L504.9 551.0L505.1 550.9L505.3 550.7L505.4 550.6L505.6 550.4L505.8 550.2L506.0 550.1L506.1 549.9L506.3 549.7L506.5 549.6L506.7 549.4L506.8 549.3L507.0 549.1L507.2 549.0L507.4 548.8L507.5 548.7L507.7 548.5L507.9 548.4L508.1 548.2L508.2 548.1L508.4 548.0L508.6 547.9L508.8 547.7L508.9 547.6L509.1 547.5L509.3 547.4L509.5 547.3L509.6 547.2L509.8 547.1L510.0 547.0L510.2 546.9L510.3 546.8L510.5 546.7L510.7 546.7L510.9 546.6L511.0 546.5L511.2 546.4L511.4 546.3L511.6 546.2L511.7 546.1L511.9 546.0L512.1 546.0L512.3 545.9L512.4 545.8L512.6 545.7L512.8 545.7L513.0 545.6L513.1 545.5L513.3 545.5L513.5 545.4L513.7 545.4L513.8 545.3L514.0 545.3L514.2 545.3L514.4 545.2L514.5 545.2L514.7 545.2L514.9 545.2L515.1 545.2L515.2 545.2L515.4 545.2L515.6 545.2L515.8 545.3L515.9 545.3L516.1 545.3L516.3 545.3L516.5 545.4L516.6 545.4L516.8 545.5L517.0 545.5L517.2 545.6L517.3 545.6L517.5 545.7L517.7 545.7L517.9 545.8L518.0 545.9L518.2 545.9L518.4 546.0L518.6 546.0L518.7 546.1L518.9 546.2L519.1 546.2L519.3 546.3L519.4 546.4L519.6 546.5L519.8 546.6L520.0 546.7L520.1 546.8L520.3 546.9L520.5 547.1L520.7 547.2L520.8 547.3L521.0 547.5L521.2 547.6L521.4 547.8L521.5 547.9L521.7 548.1L521.9 548.2L522.1 548.4L522.2 548.5L522.4 548.7L522.6 548.9L522.8 549.0L522.9 549.2L523.1 549.3L523.3 549.5L523.5 549.6L523.6 549.8L523.8 549.9L524.0 550.1L524.2 550.3L524.3 550.5L524.5 550.6L524.7 550.8L524.9 551.0L525.0 551.2L525.2 551.4L525.4 551.5L525.6 551.7L525.7 551.9L525.9 552.1L526.1 552.3L526.3 552.5L526.4 552.7L526.6 552.9L526.8 553.1L527.0 553.3L527.1 553.4L527.3 553.6L527.5 553.8L527.7 554.0L527.8 554.2L528.0 554.4L528.2 554.5L528.4 554.7L528.5 554.9L528.7 555.1L528.9 555.2L529.1 555.4L529.2 555.6L529.4 555.7L529.6 555.9L529.8 556.0L529.9 556.2L530.1 556.3L530.3 556.4L530.5 556.6L530.6 556.7L530.8 556.8L531.0 557.0L531.2 557.1L531.3 557.2L531.5 557.4L531.7 557.5L531.9 557.6L532.0 557.8L532.2 557.9L532.4 558.0L532.6 558.1L532.7 558.2L532.9 558.4L533.1 558.5L533.3 558.6L533.4 558.7L533.6 558.8L533.8 559.0L534.0 559.1L534.1 559.2L534.3 559.3L534.5 559.4L534.7 559.5L534.8 559.6L535.0 559.8L535.2 559.9L535.4 560.0L535.5 560.1L535.7 560.2L535.9 560.3L536.1 560.4L536.2 560.5L536.4 560.6L536.6 560.7L536.8 560.8L536.9 560.9L537.1 561.0L537.3 561.1L537.5 561.2L537.6 561.4L537.8 561.5L538.0 561.6L538.2 561.7L538.3 561.8L538.5 561.9L538.7 562.0L538.9 562.1L539.0 562.2L539.2 562.3L539.4 562.4L539.6 562.5L539.7 562.6L539.9 562.7L540.1 562.8L540.3 562.9L540.4 563.0L540.6 563.1L540.8 563.1L541.0 563.2L541.1 563.3L541.3 563.4L541.5 563.5L541.7 563.6L541.8 563.7L542.0 563.8L542.2 563.9L542.4 564.0L542.5 564.1L542.7 564.2L542.9 564.3L543.1 564.4L543.2 564.5L543.4 564.6L543.6 564.7L543.8 564.8L543.9 564.9L544.1 564.9L544.3 565.0L544.5 565.1L544.6 565.2L544.8 565.3L545.0 565.4L545.2 565.5L545.3 565.6L545.5 565.7L545.7 565.7L545.9 565.8L546.0 565.9L546.2 566.0L546.4 566.1L546.6 566.2L546.7 566.3L546.9 566.3L547.1 566.4L547.3 566.5L547.4 566.6L547.6 566.7L547.8 566.7L548.0 566.8L548.1 566.9L548.3 567.0L548.5 567.1L548.7 567.1L548.8 567.2L549.0 567.3L549.2 567.4L549.4 567.4L549.5 567.5L549.7 567.6L549.9 567.7L550.1 567.7L550.2 567.8L550.4 567.9L550.6 567.9L550.8 568.0L550.9 568.1L551.1 568.1L551.3 568.2L551.5 568.3L551.6 568.4L551.8 568.4L552.0 568.5L552.2 568.6L552.3 568.6L552.5 568.7L552.7 568.8L552.9 568.8L553.0 568.9L553.2 568.9L553.4 569.0L553.6 569.1L553.7 569.1L553.9 569.2L554.1 569.3L554.3 569.3L554.4 569.4L554.6 569.4L554.8 569.5L555.0 569.6L555.1 569.6L555.3 569.7L555.5 569.7L555.7 569.8L555.8 569.9L556.0 569.9L556.2 570.0L556.4 570.0L556.5 570.1L556.7 570.2L556.9 570.2L557.1 570.3L557.2 570.3L557.4 570.4L557.6 570.4L557.8 570.5L557.9 570.6L558.1 570.6L558.3 570.7L558.5 570.7L558.6 570.8L558.8 570.8L559.0 570.9L559.2 570.9L559.3 571.0L559.5 571.1L559.7 571.1L559.9 571.2L560.0 571.2L560.2 571.3L560.4 571.3L560.6 571.4L560.7 571.4L560.9 571.5L561.1 571.5L561.3 571.6L561.4 571.6L561.6 571.7L561.8 571.7L562.0 571.8L562.1 571.8L562.3 571.9L562.5 571.9L562.7 572.0L562.8 572.1L563.0 572.1L563.2 572.2L563.4 572.2L563.5 572.3L563.7 572.3L563.9 572.4L564.1 572.4L564.2 572.5L564.4 572.5L564.6 572.6L564.8 572.6L564.9 572.7L565.1 572.7L565.3 572.8L565.5 572.8L565.6 572.8L565.8 572.9L566.0 572.9L566.2 573.0L566.3 573.0L566.5 573.1L566.7 573.1L566.9 573.2L567.0 573.2L567.2 573.3L567.4 573.3L567.6 573.4L567.7 573.4L567.9 573.5L568.1 573.5L568.3 573.6L568.4 573.6L568.6 573.6L568.8 573.7L569.0 573.7L569.1 573.8L569.3 573.8L569.5 573.9L569.7 573.9L569.8 574.0L570.0 574.0L570.2 574.1L570.4 574.1L570.5 574.1L570.7 574.2L570.9 574.2L571.1 574.3L571.2 574.3L571.4 574.4L571.6 574.4L571.8 574.4L571.9 574.5L572.1 574.5L572.3 574.6L572.5 574.6L572.6 574.7L572.8 574.7L573.0 574.7L573.2 574.8L573.3 574.8L573.5 574.9L573.7 574.9L573.9 574.9L574.0 575.0L574.2 575.0L574.4 575.1L574.6 575.1L574.7 575.1L574.9 575.2L575.1 575.2L575.3 575.3L575.4 575.3L575.6 575.3L575.8 575.4L576.0 575.4L576.1 575.5L576.3 575.5L576.5 575.5L576.7 575.6L576.8 575.6L577.0 575.7L577.2 575.7L577.4 575.7L577.5 575.8L577.7 575.8L577.9 575.9L578.1 575.9L578.2 575.9L578.4 576.0L578.6 576.0L578.8 576.1L578.9 576.1L579.1 576.1L579.3 576.2L579.5 576.2L579.6 576.3L579.8 576.3L580.0 576.3L580.2 576.4L580.3 576.4L580.5 576.4L580.7 576.5L580.9 576.5L581.0 576.6L581.2 576.6L581.4 576.6L581.6 576.7L581.7 576.7L581.9 576.8L582.1 576.8L582.3 576.8L582.4 576.9L582.6 576.9L582.8 576.9L583.0 577.0L583.1 577.0L583.3 577.0L583.5 577.1L583.7 577.1L583.8 577.1L584.0 577.2L584.2 577.2L584.4 577.3L584.5 577.3L584.7 577.3L584.9 577.4L585.1 577.4L585.2 577.4L585.4 577.5L585.6 577.5L585.8 577.5L585.9 577.6L586.1 577.6L586.3 577.6L586.5 577.6L586.6 577.7L586.8 577.7L587.0 577.7L587.2 577.8L587.3 577.8L587.5 577.8L587.7 577.9L587.9 577.9L588.0 577.9L588.2 577.9L588.4 578.0L588.6 578.0L588.7 578.0L588.9 578.0L589.1 578.1L589.3 578.1L589.4 578.1L589.6 578.1L589.8 578.2L590.0 578.2L590.1 578.2L590.3 578.2L590.5 578.3" stroke="#8b008b" stroke-width="2.1"/></g><path d="M170.50 613.5 V618.1M184.50 613.5 V616.7M198.50 613.5 V616.7M212.50 613.5 V616.7M226.50 613.5 V616.7M240.50 613.5 V618.1M254.50 613.5 V616.7M268.50 613.5 V616.7M282.50 613.5 V616.7M296.50 613.5 V616.7M310.50 613.5 V618.1M324.50 613.5 V616.7M338.50 613.5 V616.7M352.50 613.5 V616.7M366.50 613.5 V616.7M380.50 613.5 V618.1M394.50 613.5 V616.7M408.50 613.5 V616.7M422.50 613.5 V616.7M436.50 613.5 V616.7M450.50 613.5 V618.1M464.50 613.5 V616.7M478.50 613.5 V616.7M492.50 613.5 V616.7M506.50 613.5 V616.7M520.50 613.5 V618.1M534.50 613.5 V616.7M548.50 613.5 V616.7M562.50 613.5 V616.7M576.50 613.5 V616.7M590.50 613.5 V618.1" stroke="#000" stroke-width="1.4" fill="none"/><g font-family="'Liberation Serif','Times New Roman',serif" font-weight="bold" font-size="14" text-anchor="middle" fill="#000"><text x="171.0" y="640.4">2.0</text><text x="241.0" y="640.4">3.0</text><text x="311.0" y="640.4">4.0</text><text x="381.0" y="640.4">5.0</text><text x="451.0" y="640.4">6.0</text><text x="521.0" y="640.4">7.0</text><text x="591.0" y="640.4">8.0</text></g><text font-family="'Liberation Serif','Times New Roman',serif" font-weight="bold" fill="#000" font-size="31" y="358.4"><tspan x="278" font-style="italic">r</tspan><tspan x="298.8" letter-spacing="1">(Å)</tspan></text><text font-family="'Liberation Serif','Times New Roman',serif" font-weight="bold" fill="#000" font-size="22.8" y="665.3"><tspan x="358.2" font-style="italic">r</tspan><tspan x="373.8" letter-spacing="0.7">(Å)</tspan></text><text font-family="'Liberation Serif','Times New Roman',serif" font-weight="bold" fill="#000" font-size="32" text-anchor="middle" transform="translate(21.9 142.6) rotate(-90) scale(1 1.06)">RDF</text><text font-family="'Liberation Serif','Times New Roman',serif" font-weight="bold" fill="#000" font-size="23" text-anchor="middle" transform="translate(145.8 492.4) rotate(-90) scale(1 1.01)">RDF</text><path d="M325 25.4 H341" stroke="#0000ff" stroke-width="2.6"/><text font-family="'Liberation Serif','Times New Roman',serif" font-weight="bold" fill="#000" font-size="13.9" x="344.3" y="30.8">Ca2+<tspan letter-spacing="-0.8">···</tspan>phosphate of DNA</text><path d="M325 64.7 H341" stroke="#00ff00" stroke-width="2.6"/><text font-family="'Liberation Serif','Times New Roman',serif" font-weight="bold" fill="#000" font-size="13.9" x="344.3" y="70.2">OH-<tspan letter-spacing="-0.8">···</tspan>phosphate of DNA</text><path d="M325 104.0 H341" stroke="#8b008b" stroke-width="2.6"/><text font-family="'Liberation Serif','Times New Roman',serif" font-weight="bold" fill="#000" font-size="13.9" x="344.3" y="109.7">phosphate<tspan letter-spacing="-0.8">···</tspan>phosphate of DNA</text><path d="M402.7 399.2 H414.8" stroke="#0000ff" stroke-width="2"/><text font-family="'Liberation Serif','Times New Roman',serif" font-weight="bold" fill="#000" font-size="10.95" x="417.3" y="403.7">Ca2+<tspan letter-spacing="-0.6">···</tspan>phosphate of DNA</text><path d="M402.7 423.3 H414.8" stroke="#00ff00" stroke-width="2"/><text font-family="'Liberation Serif','Times New Roman',serif" font-weight="bold" fill="#000" font-size="10.95" x="417.3" y="427.8">OH-<tspan letter-spacing="-0.6">···</tspan>phosphate of DNA</text><path d="M402.7 447.4 H414.8" stroke="#8b008b" stroke-width="2"/><text font-family="'Liberation Serif','Times New Roman',serif" font-weight="bold" fill="#000" font-size="10.95" x="417.3" y="452.0">phosphate<tspan letter-spacing="-0.6">···</tspan>phosphate of DNA</text></svg></body></html>
